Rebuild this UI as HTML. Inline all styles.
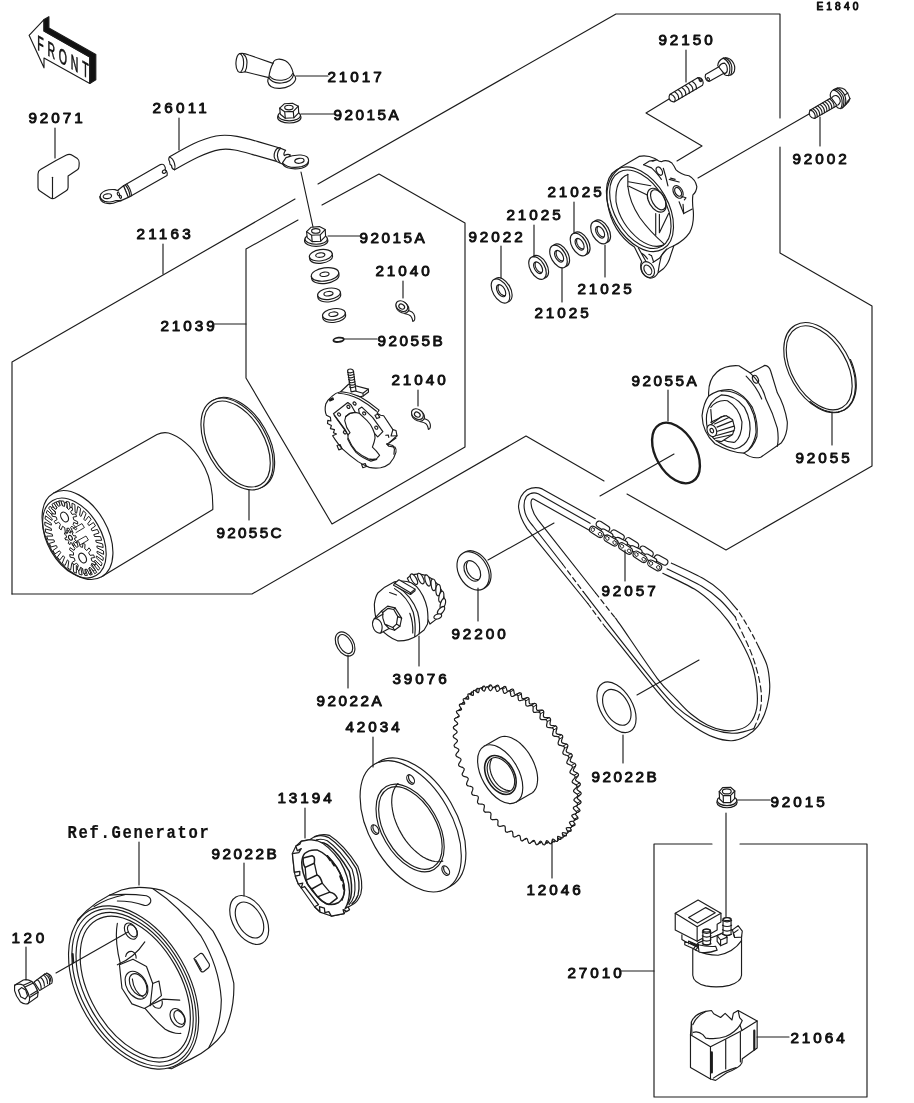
<!DOCTYPE html>
<html><head><meta charset="utf-8"><title>Starter Motor</title>
<style>
html,body{margin:0;padding:0;background:#fff;overflow:hidden}
svg{display:block;filter:grayscale(1)}
.ln{fill:none;stroke:#1c1c1c;stroke-width:1.15;stroke-linecap:round;stroke-linejoin:round}
.ln *{vector-effect:non-scaling-stroke}
.ln .w{fill:#fff}
.ln .k{fill:#111}
.ln .thin{stroke-width:0.8}
.ln .thick{stroke-width:2.4}
.t{font-family:"Liberation Sans",sans-serif;font-weight:normal;fill:#111;stroke:#111;stroke-width:0.95;stroke-linejoin:round}
.t .m{font-family:"Liberation Mono",monospace;font-weight:bold;stroke-width:0.2}
</style></head><body>
<svg width="914" height="1103" viewBox="0 0 914 1103">
<rect width="914" height="1103" fill="#fff"/>
<g class="ln">
<g id="frame">
<polyline points="12,594 12,362 295,199"/>
<polyline points="318,184 616,14 780,14 780,118"/>
<polyline points="780,147 780,253 872,306 872,466 726,550 627,494"/>
<polyline points="604,481 526,436 252,594 12,594"/>
<polyline points="298,220 246,249 246,378 332,524 465,447 465,223 379,174 322,205"/>
<polyline points="712,844 654,844 654,1097 867,1097 867,844 740,844"/>
</g>
<g id="partA">
<polygon points="29.1,35.3 44,19.6 44,31 89.8,57 89.8,83.4 44,58 44,67.8" class="w"/>
<polygon points="44,19.6 48.9,16.7 48.9,28 95.8,54.5 95.8,79.8 89.8,83.4 89.8,57 44,31" class="k"/>
<text transform="translate(37.2,49.4) skewY(29.5) scale(0.5,1)" font-family="Liberation Sans, sans-serif" font-size="21" textLength="103" lengthAdjust="spacing" fill="#111" stroke="#111" stroke-width="0.6" opacity="0.995">FRONT</text>
<path d="M38,174 Q38,171 40.5,169.6 L56,160.4 L66,155.2 Q69.5,153.6 72.6,155.4 L77.4,158.6 Q79.4,160 79.2,163 L79,166.6 Q79,168.6 77.4,169.8 L68.1,176 L68.1,187.6 Q68.1,189.6 66.2,190.8 L55,198 Q52.5,199.4 50,197.8 L39.6,190.8 Q38,189.6 38,187.6 Z" class="w"/>
<line x1="52.5" y1="177.3" x2="52.5" y2="197.7"/>
<path d="M123.5,185.7 L160.4,164.6 Q163.4,163.4 164.6,166 Q166,168 165,170 Q168,171.6 167,175.6 L128.3,197.4 Z" class="w"/>
<ellipse cx="164.3" cy="171.6" rx="2.1" ry="1.6" transform="rotate(-30 164.3 171.6)"/>
<path d="M115.6,192 L123.5,185.7 L128.3,197.4 L121,200.6 Z" class="w"/>
<path d="M125.4,185 Q129.4,189.6 130,196.6"/>
<path d="M126.8,184.2 Q130.8,188.8 131.6,195.8"/>
<path d="M118.6,191 L115,189.6 Q104,189 100.6,194.4 Q98.8,199 104.6,201.4 Q111,203 116,200.6 L121,200.6" class="w"/>
<path d="M99.8,196.6 Q100,201.6 105,203 Q111.6,204.6 116.6,202 L121,200.6"/>
<ellipse cx="107.4" cy="196.2" rx="4.2" ry="2.4" transform="rotate(-8 107.4 196.2)"/>
<ellipse cx="118.4" cy="194" rx="1" ry="1.8" transform="rotate(-20 118.4 194)"/>
<ellipse cx="120.4" cy="196.8" rx="1" ry="1.6" transform="rotate(-20 120.4 196.8)"/>
<path d="M169.4,157 C184,148.6 200,139 216,136 C230,133.6 244,137.6 258,141.6 L280.6,148.2 L276.6,161.4 L252,154.4 C240,151 230,148 220,149.6 C206,152 190,161 174.6,169.8 Q171.4,168.6 171.6,165.6 Q169.4,164.4 169.6,161.4 Q168,159.4 169.4,157 Z" class="w"/>
<path d="M169.4,157 Q173,158.4 174.4,163 Q175.6,166.6 174.6,169.8"/>
<path d="M276.6,161.4 Q272.6,157 275,151.6 Q277,147 280.6,148.2 L285.6,150.4 Q283,153.6 284.4,155.6 Q287.6,153.6 290.4,155 Q287.6,157.6 289.4,158.6 L284.6,165 Z" class="w"/>
<path d="M280.6,148.2 Q277.4,151 277.4,155.6 Q277.6,159.6 280,162.6"/>
<path d="M286,157.6 Q293,154.6 301,155 Q308.6,155.8 308.6,160.2 Q308.4,164.8 301.6,166.6 Q293.6,168.4 287.6,166.2 Q282.6,164.2 282.6,162.6 Z" class="w"/>
<path d="M282.6,162.8 Q282.6,166 287.6,167.8 Q294,169.8 301.6,168.2 Q308.6,166.4 308.6,161"/>
<ellipse cx="299.4" cy="160.8" rx="4.7" ry="2.5" transform="rotate(-8 299.4 160.8)"/>
<path d="M239.6,53.6 Q243.6,52.6 249,55 L273,63.4 C274,58 281,58.6 285.4,60.8 C290.6,63.4 292.6,70 293.6,74.6 Q296,76.4 295.6,79.4 C294,84.6 287,88 280,88.4 C273.6,88.6 268.6,86.4 267.8,81.6 Q267.6,79 268.8,77.6 L245,71.8 Q240,73.4 238,71.4 C234.6,67 235.6,56 239.6,53.6 Z" class="w"/>
<path d="M239.6,53.6 Q243.4,55.4 243.6,62 Q243.8,68.6 241,71.6"/>
<path d="M243.6,54.4 Q246.8,56.4 247,62.4 Q247,68 245,71.8"/>
<path d="M273,63.4 C270.6,67.6 269.4,73 268.8,77.6"/>
<path d="M268.8,77.6 C270.6,81.6 276,83.4 281.6,83 C287.6,82.4 292.6,79.4 293.6,74.6"/>
<path d="M269.6,76 C272,79.4 277,80.6 282,80.2 C287,79.6 291,77.4 292.6,73.6"/>
<g transform="translate(289.3 116.2) scale(1)">
<ellipse cx="0" cy="1.2" rx="11.7" ry="5.6" class="w"/>
<ellipse cx="0" cy="-0.6" rx="11.2" ry="5.2" class="w"/>
<path class="w" d="M-9,-2 L-9.6,-8 L-5,-12.4 L3.2,-13 L9,-10 L9.4,-3.4 L4.5,1.6 L-4,2 Z"/>
<path d="M-9.6,-8 L-4.6,-4.4 L4,-4.8 L9,-10 M-4.6,-4.4 L-4,2 M4,-4.8 L4.5,1.6"/>
<ellipse cx="-0.4" cy="-8.7" rx="4.2" ry="2.3"/>
</g>
<g transform="translate(316.2 239.6) scale(1)">
<ellipse cx="0" cy="1.2" rx="11.7" ry="5.6" class="w"/>
<ellipse cx="0" cy="-0.6" rx="11.2" ry="5.2" class="w"/>
<path class="w" d="M-9,-2 L-9.6,-8 L-5,-12.4 L3.2,-13 L9,-10 L9.4,-3.4 L4.5,1.6 L-4,2 Z"/>
<path d="M-9.6,-8 L-4.6,-4.4 L4,-4.8 L9,-10 M-4.6,-4.4 L-4,2 M4,-4.8 L4.5,1.6"/>
<ellipse cx="-0.4" cy="-8.7" rx="4.2" ry="2.3"/>
</g>
<g transform="translate(320.8 255.2) rotate(-8)">
<path class="w" d="M-11.5,0 L-11.5,2.4 A11.5,5.6 0 0 0 11.5,2.4 L11.5,0"/>
<ellipse cx="0" cy="0" rx="11.5" ry="5.6" class="w"/>
<ellipse cx="-0.5" cy="-0.2" rx="4.6" ry="2.2"/>
</g>
<g transform="translate(325 274.4) rotate(-8)">
<path class="w" d="M-13.8,0 L-13.8,2.4 A13.8,6.6 0 0 0 13.8,2.4 L13.8,0"/>
<ellipse cx="0" cy="0" rx="13.8" ry="6.6" class="w"/>
<ellipse cx="-0.5" cy="-0.2" rx="4.6" ry="2.2"/>
</g>
<g transform="translate(329 293.8) rotate(-8)">
<path class="w" d="M-11.5,0 L-11.5,2.4 A11.5,5.6 0 0 0 11.5,2.4 L11.5,0"/>
<ellipse cx="0" cy="0" rx="11.5" ry="5.6" class="w"/>
<ellipse cx="-0.5" cy="-0.2" rx="4.6" ry="2.2"/>
</g>
<g transform="translate(333.9 314.3) rotate(-8)">
<path class="w" d="M-11.5,0 L-11.5,2.4 A11.5,5.6 0 0 0 11.5,2.4 L11.5,0"/>
<ellipse cx="0" cy="0" rx="11.5" ry="5.6" class="w"/>
<ellipse cx="-0.5" cy="-0.2" rx="4.6" ry="2.2"/>
</g>
<ellipse cx="338.6" cy="339.8" rx="5.2" ry="2.1" transform="rotate(-6 338.6 339.8)" stroke-width="1.8"/>
<g transform="translate(402 306.6)">
<path class="w" d="M4.6,3.6 C8,4 12,6 12.6,9.5 C13.2,12.5 12.6,14.4 10.8,14.8 C10.4,12 9.4,9.6 7.6,8.6 C6,7.6 4,7.4 2.4,6.8 Z"/>
<ellipse cx="0.8" cy="0.4" rx="7" ry="5.2" transform="rotate(35)" class="w"/>
<ellipse cx="-0.4" cy="-0.3" rx="6.4" ry="4.8" transform="rotate(35)" class="w"/>
<ellipse cx="-0.2" cy="0.2" rx="3.1" ry="2.3" transform="rotate(35)"/>
</g>
<g transform="translate(417.6 414.6)">
<path class="w" d="M4.6,3.6 C8,4 12,6 12.6,9.5 C13.2,12.5 12.6,14.4 10.8,14.8 C10.4,12 9.4,9.6 7.6,8.6 C6,7.6 4,7.4 2.4,6.8 Z"/>
<ellipse cx="0.8" cy="0.4" rx="7" ry="5.2" transform="rotate(35)" class="w"/>
<ellipse cx="-0.4" cy="-0.3" rx="6.4" ry="4.8" transform="rotate(35)" class="w"/>
<ellipse cx="-0.2" cy="0.2" rx="3.1" ry="2.3" transform="rotate(35)"/>
</g>
</g>
<g id="partB">
<ellipse cx="502.8" cy="289.7" rx="13.2" ry="7.6" transform="rotate(60 502.8 289.7)" class="w"/>
<ellipse cx="500.5" cy="291" rx="13.2" ry="7.6" transform="rotate(60 500.5 291)" class="w"/>
<ellipse cx="501.1" cy="290.7" rx="6.6" ry="3.8" transform="rotate(60 501.1 290.7)"/>
<polyline points="504.6,295.6 504,295.6 503.3,295.4 502.6,295.1 501.8,294.6 501.1,294.1 500.4,293.4 499.8,292.6 499.3,291.7 498.8,290.8 498.4,289.9 498.2,288.9 498,288 498,287.2 498.1,286.4 498.3,285.7 498.6,285.1"/>
<ellipse cx="539.8" cy="266.7" rx="12.4" ry="7.2" transform="rotate(60 539.8 266.7)" class="w"/>
<ellipse cx="537.5" cy="268" rx="12.4" ry="7.2" transform="rotate(60 537.5 268)" class="w"/>
<ellipse cx="538.1" cy="267.7" rx="6.4" ry="3.7" transform="rotate(60 538.1 267.7)"/>
<polyline points="541.5,272.4 540.9,272.4 540.2,272.3 539.5,271.9 538.8,271.5 538.1,270.9 537.5,270.3 536.9,269.5 536.4,268.7 535.9,267.8 535.5,266.9 535.3,266 535.1,265.1 535.1,264.3 535.2,263.5 535.4,262.8 535.7,262.3"/>
<ellipse cx="560.8" cy="255.2" rx="12.4" ry="7.2" transform="rotate(60 560.8 255.2)" class="w"/>
<ellipse cx="558.5" cy="256.5" rx="12.4" ry="7.2" transform="rotate(60 558.5 256.5)" class="w"/>
<ellipse cx="559.1" cy="256.2" rx="6.4" ry="3.7" transform="rotate(60 559.1 256.2)"/>
<polyline points="562.5,260.9 561.9,260.9 561.2,260.8 560.5,260.4 559.8,260 559.1,259.4 558.5,258.8 557.9,258 557.4,257.2 556.9,256.3 556.5,255.4 556.3,254.5 556.1,253.6 556.1,252.8 556.2,252 556.4,251.3 556.7,250.8"/>
<ellipse cx="581.3" cy="243.2" rx="12.4" ry="7.2" transform="rotate(60 581.3 243.2)" class="w"/>
<ellipse cx="579" cy="244.5" rx="12.4" ry="7.2" transform="rotate(60 579 244.5)" class="w"/>
<ellipse cx="579.6" cy="244.2" rx="6.4" ry="3.7" transform="rotate(60 579.6 244.2)"/>
<polyline points="583,248.9 582.4,248.9 581.7,248.8 581,248.4 580.3,248 579.6,247.4 579,246.8 578.4,246 577.9,245.2 577.4,244.3 577,243.4 576.8,242.5 576.6,241.6 576.6,240.8 576.7,240 576.9,239.3 577.2,238.8"/>
<ellipse cx="601.8" cy="231.2" rx="12.4" ry="7.2" transform="rotate(60 601.8 231.2)" class="w"/>
<ellipse cx="599.5" cy="232.5" rx="12.4" ry="7.2" transform="rotate(60 599.5 232.5)" class="w"/>
<ellipse cx="600.1" cy="232.2" rx="6.4" ry="3.7" transform="rotate(60 600.1 232.2)"/>
<polyline points="603.5,236.9 602.9,236.9 602.2,236.8 601.5,236.4 600.8,236 600.1,235.4 599.5,234.8 598.9,234 598.4,233.2 597.9,232.3 597.5,231.4 597.3,230.5 597.1,229.6 597.1,228.8 597.2,228 597.4,227.3 597.7,226.8"/>
<g transform="translate(655 50) scale(0.13129)">
<path d="M115,337 L325,212 Q350,205 362,228 Q372,250 362,268 L148,394 Q120,398 108,372 Q104,350 115,337 Z" class="w"/>
<path d="M115,337 Q140,340 152,365 Q158,382 148,394"/>
<path d="M150,318 Q184,340 180,375"/>
<path d="M177,302 Q211,324 207,359"/>
<path d="M204,286 Q238,308 234,343"/>
<path d="M231,271 Q265,293 261,328"/>
<path d="M258,255 Q292,277 288,312"/>
<path d="M285,240 Q319,262 315,297"/>
<path d="M325,212 Q343,222 349,240"/>
<ellipse cx="346" cy="230" rx="9" ry="12" transform="rotate(-30 346 230)"/>
<path d="M385,187 L490,125 L525,178 L412,240 Q396,238 388,222 Q378,205 385,187 Z" class="w"/>
<ellipse cx="405" cy="222" rx="9" ry="12" transform="rotate(-30 405 222)"/>
<path d="M478,120 Q480,80 520,62 Q560,50 588,85 Q615,120 605,160 Q600,178 585,186 Q560,200 535,190 Q520,180 525,178 Z" class="w"/>
<path d="M520,62 Q548,75 565,110 Q578,150 560,196"/>
<path d="M535,60 Q565,72 580,108 Q592,145 578,190"/>
<path d="M490,125 Q500,100 530,100 Q555,120 550,160 Q545,180 525,178"/>
</g>
<g transform="translate(790 75) scale(0.08753)">
<path d="M228,402 L480,255 L545,345 L285,495 Q250,500 228,465 Q212,430 228,402 Z" class="w"/>
<path d="M228,402 Q262,405 280,440 Q295,470 285,495"/>
<path d="M262,385 Q314,417 312,477"/>
<path d="M289,369 Q341,401 339,461"/>
<path d="M317,353 Q369,385 367,445"/>
<path d="M344,337 Q396,369 394,429"/>
<path d="M372,321 Q424,353 422,413"/>
<path d="M399,305 Q451,337 449,397"/>
<path d="M427,289 Q479,321 477,381"/>
<path d="M454,273 Q506,305 504,365"/>
<path d="M462,250 Q450,200 495,170 L540,150 Q590,140 625,165 Q670,210 685,270 Q680,300 640,335 L600,375 Q570,390 545,375 Q520,350 530,340 Z" class="w"/>
<path d="M495,170 Q545,180 585,250 Q610,320 580,385"/>
<path d="M515,160 Q565,170 605,240 Q630,310 600,375"/>
<path d="M540,150 Q590,165 625,230 Q650,300 625,350"/>
<path d="M625,230 L660,205 M640,335 Q650,300 685,270"/>
<path d="M480,255 Q500,230 530,235 Q570,255 575,300 Q570,330 545,345"/>
</g>
<g transform="translate(595 140) scale(0.13141)">
<path d="M195,208 L335,125 Q395,112 455,140 L470,150 Q490,165 505,165 Q545,145 585,175 Q605,200 615,225 Q650,262 715,272 Q765,300 775,355 Q772,395 745,418 Q738,470 748,540 Q755,640 720,705 Q680,765 600,805 L575,880 Q560,940 520,980 L480,1010 Q460,1050 420,1052 Q375,1040 355,1000 Q340,960 355,925 L300,815 Q130,700 95,480 Q70,300 195,208 Z" class="w"/>
<ellipse cx="342" cy="527" rx="350" ry="215" transform="rotate(60 342 527)"/>
<ellipse cx="345" cy="527" rx="325" ry="194" transform="rotate(60 345 527)"/>
<path d="M250,262 Q150,300 160,470 Q190,640 340,760 Q440,830 520,800"/>
<path d="M250,262 L250,352"/>
<path d="M250,352 Q262,470 340,590 Q420,700 525,790"/>
<ellipse cx="470" cy="458" rx="99" ry="60" transform="rotate(60 470 458)" class="w"/>
<ellipse cx="481" cy="455" rx="84" ry="47" transform="rotate(60 481 455)"/>
<path d="M255,318 L425,348 M258,352 L398,418 L400,445"/>
<path d="M462,560 L462,725 M490,565 L490,705 L560,560"/>
<path d="M370,188 L415,160 L470,150 M440,162 L470,150"/>
<path d="M370,188 L430,212 Q480,260 505,300"/>
<ellipse cx="490" cy="237" rx="34" ry="20" transform="rotate(60 490 237)"/>
<path d="M520,215 Q540,280 555,350"/>
<path d="M565,300 L640,320 M575,290 L610,300"/>
<ellipse cx="632" cy="395" rx="52" ry="34" transform="rotate(60 632 395)"/>
<ellipse cx="632" cy="395" rx="36" ry="22" transform="rotate(60 632 395)"/>
<path d="M640,470 L675,560 L740,525 M660,430 L692,440 L680,455"/>
<path d="M675,560 L670,490"/>
<path d="M330,822 L388,925 M355,862 Q385,880 400,905 M440,932 L490,900 L545,830"/>
<path d="M480,1005 Q490,940 505,880 Q530,830 600,805"/>
<path d="M430,880 L445,925 M410,870 L430,880"/>
<ellipse cx="402" cy="986" rx="64" ry="46" transform="rotate(60 402 986)" class="w"/>
<ellipse cx="402" cy="988" rx="40" ry="26" transform="rotate(60 402 988)"/>
</g>
</g>
<g id="partC">
<path d="M53.4,493.3 L157,434.6 C162,432.2 168,432.4 172,434.2 C184,439 197,452 205,468 C210,478 213.2,490 212.8,509.4 L101.6,576.7" class="w"/>
<ellipse cx="77.5" cy="535" rx="48.2" ry="30" transform="rotate(60 77.5 535)" class="w"/>
<ellipse cx="74.4" cy="538" rx="43.4" ry="26.8" transform="rotate(60 74.4 538)"/>
<polygon points="94.5,573.4 89.8,565.8 88.6,566.3 92.3,574.4 90,575.1 86.2,567 84.8,567.2 87.4,575.4 84.8,575.4 82.1,567.2 80.7,567 82.1,575 79.2,574.3 77.8,566.2 76.3,565.6 76.4,573.2 73.5,571.8 73.3,564.2 71.8,563.2 70.6,570 67.8,568 68.8,561.1 67.4,559.9 65,565.6 62.3,563 64.6,557.2 63.2,555.7 59.7,560.2 57.3,557.1 60.7,552.6 59.5,550.8 55,553.9 52.9,550.5 57.3,547.4 56.3,545.5 51,547 49.3,543.4 54.6,541.8 53.9,539.9 47.9,539.8 46.7,536.1 52.7,536.1 52.2,534.2 45.8,532.5 45.2,528.9 51.5,530.5 51.3,528.6 44.9,525.4 44.8,522 51.3,525.2 51.4,523.5 45,518.8 45.5,515.8 51.9,520.4 52.3,518.9 46.3,513 47.3,510.4 53.4,516.2 54,515 48.6,508.1 50.1,506.1 55.6,512.9 56.6,512 51.9,504.4 53.9,503 58.6,510.6 59.8,510.1 56.1,502 58.4,501.3 62.2,509.4 63.6,509.2 61,501 63.6,501 66.3,509.2 67.7,509.4 66.3,501.4 69.2,502.1 70.6,510.2 72.1,510.8 72,503.2 74.9,504.6 75.1,512.2 76.6,513.2 77.8,506.4 80.6,508.4 79.6,515.3 81,516.5 83.4,510.8 86.1,513.4 83.8,519.2 85.2,520.7 88.7,516.2 91.1,519.3 87.7,523.8 88.9,525.6 93.4,522.5 95.5,525.9 91.1,529 92.1,530.9 97.4,529.4 99.1,533 93.8,534.6 94.5,536.5 100.5,536.6 101.7,540.3 95.7,540.3 96.2,542.2 102.6,543.9 103.2,547.5 96.9,545.9 97.1,547.8 103.5,551 103.6,554.4 97.1,551.2 97,552.9 103.4,557.6 102.9,560.6 96.5,556 96.1,557.5 102.1,563.4 101.1,566 95,560.2 94.4,561.4 99.8,568.3 98.3,570.3 92.8,563.5 91.8,564.4 96.5,572" stroke-width="1"/>
<polygon points="70.8,527.7 73,532.4 71.3,533.1 69,528.3 66.9,528.3 67.4,533 65.3,532.3 64.7,527.6 62.5,526.3 61.1,529.9 59.1,528.1 60.4,524.4 58.6,522.2 55.7,523.8 54.2,521.3 57.1,519.6 56.1,516.9 52.2,516.2 51.7,513.6 55.5,514.2 55.5,511.6 51.6,508.8 52.1,506.6 56,509.4 57,507.6 54,503.2 55.4,502 58.4,506.3 60.2,505.7 58.8,500.8 60.8,500.8 62.3,505.7 64.5,506.4 65,502.1 67.1,503.4 66.7,507.7 68.8,509.6 71,506.8 72.8,509.1 70.6,511.8 72.1,514.4 75.6,513.9 76.6,516.5 73.1,517.1 73.7,519.8 77.6,521.7 77.7,524.1 73.7,522.4 73.2,524.6 76.7,528.4 75.7,530.1 72.2,526.4" class="w" stroke-width="1"/>
<ellipse cx="64.6" cy="517" rx="5.3" ry="3.4" transform="rotate(60 64.6 517)"/>
<polygon points="88.8,568.7 91,573.4 89.3,574.1 87,569.3 84.9,569.3 85.4,574 83.3,573.3 82.7,568.6 80.5,567.3 79.1,570.9 77.1,569.1 78.4,565.4 76.6,563.2 73.7,564.8 72.2,562.3 75.1,560.6 74.1,557.9 70.2,557.2 69.7,554.6 73.5,555.2 73.5,552.6 69.6,549.8 70.1,547.6 74,550.4 75,548.6 72,544.2 73.4,543 76.4,547.3 78.2,546.7 76.8,541.8 78.8,541.8 80.3,546.7 82.5,547.4 83,543.1 85.1,544.4 84.7,548.7 86.8,550.6 89,547.8 90.8,550.1 88.6,552.8 90.1,555.4 93.6,554.9 94.6,557.5 91.1,558.1 91.7,560.8 95.6,562.7 95.7,565.1 91.7,563.4 91.2,565.6 94.7,569.4 93.7,571.1 90.2,567.4" class="w" stroke-width="1"/>
<ellipse cx="82.6" cy="558" rx="5.3" ry="3.4" transform="rotate(60 82.6 558)"/>
<polygon points="73.5,542.7 74.5,545.2 73.1,545.6 72,543.1 70.4,542.6 69.9,544.6 68.2,543.4 68.8,541.4 67.4,539.6 65.7,540 64.8,538 66.6,537.6 66.3,535.6 64.4,534.1 64.8,532.5 66.7,533.9 67.7,532.9 66.7,530.4 68.1,530 69.2,532.5 70.8,533 71.3,531 73,532.2 72.4,534.2 73.8,536 75.5,535.6 76.4,537.6 74.6,538 74.9,540 76.8,541.5 76.4,543.1 74.5,541.7" class="w" stroke-width="1"/>
<ellipse cx="70.4" cy="537.8" rx="2.6" ry="1.7" transform="rotate(60 70.4 537.8)"/>
<path d="M73,528.5 L82,523.6 L84.4,527.6 L76,532.6 M77,541 L86,536 L88.4,540 L80,545" stroke-width="0.9"/>
<ellipse cx="238.6" cy="443.2" rx="50" ry="30" transform="rotate(60 238.6 443.2)"/>
<ellipse cx="237" cy="444" rx="50" ry="30" transform="rotate(60 237 444)" class="w"/>
<ellipse cx="237" cy="444" rx="47" ry="27.2" transform="rotate(60 237 444)"/>
<g transform="translate(315 362) scale(0.10250)">
<path d="M250,290 L330,215 L520,265 L522,292 L470,332 L440,340 Z" class="w"/>
<path d="M520,265 L468,305 L470,332 M468,305 L400,285"/>
<path d="M318,85 Q320,68 345,68 Q372,68 375,88 L400,282 L352,292 Z" class="w"/>
<path d="M319,100 Q345,114 377,96"/>
<path d="M322,124 Q348,138 380,120"/>
<path d="M325,148 Q351,162 383,144"/>
<path d="M328,172 Q354,186 386,168"/>
<path d="M331,196 Q357,210 389,192"/>
<path d="M334,220 Q360,234 392,216"/>
<path d="M337,244 Q363,258 395,240"/>
<path d="M165,335 Q200,300 250,290 Q330,292 440,340 Q530,392 625,470 L605,500 L640,520 L670,524 L760,660 L790,668 L800,720 L722,790 L700,800 L720,822 L780,830 Q796,850 790,880 Q775,940 730,990 Q690,1022 640,1032 Q580,1040 530,1028 Q470,1005 420,972 Q340,915 270,850 Q225,800 195,755 L172,720 L210,702 L180,690 L190,660 L150,650 L160,620 L122,600 L125,570 L155,576 L150,540 L112,520 Q90,470 105,410 Q125,365 165,335 Z" class="w"/>
<path d="M230,305 Q330,312 430,360 Q520,410 600,480"/>
<path d="M180,505 L320,395 L352,420 L392,490 L340,500 L300,532 L290,572 L310,640 L342,690 L322,712 L290,655 Z"/>
<path d="M188,520 L292,665"/>
<path d="M425,460 L457,440 L562,540 L662,680 L612,730 L582,700 Q565,650 540,610 Q510,570 480,545 L432,500 Z"/>
<path d="M300,532 L340,502 L392,492 L432,500 M582,700 Q592,740 577,780 L560,830 Q600,865 630,910 L600,945 Q560,955 520,945 Q460,920 400,870 Q350,810 322,740 L322,712"/>
<path d="M318,750 Q345,815 400,882 Q465,940 545,967 L602,950"/>
<ellipse cx="235" cy="512" rx="17" ry="13" transform="rotate(45 235 512)"/>
<ellipse cx="326" cy="437" rx="17" ry="13" transform="rotate(45 326 437)"/>
<ellipse cx="386" cy="405" rx="17" ry="13" transform="rotate(45 386 405)"/>
<ellipse cx="292" cy="686" rx="17" ry="13" transform="rotate(45 292 686)"/>
<ellipse cx="480" cy="502" rx="17" ry="13" transform="rotate(45 480 502)"/>
<ellipse cx="598" cy="640" rx="17" ry="13" transform="rotate(45 598 640)"/>
<path d="M585,520 L615,510 L632,540 L602,552 Z M215,815 L245,805 L262,845 L232,857 Z M455,1000 L490,990 L502,1020 L467,1032 Z"/>
<path d="M140,365 L175,350 L180,365 L146,381 Z" class="k"/>
<path d="M760,660 L742,722 L800,720 M690,715 L715,712 L720,735 M722,790 L790,742 M700,800 L760,815 L775,850 L770,900"/>
</g>
</g>
<g id="partD">
<ellipse cx="474.9" cy="569.9" rx="20.5" ry="14.4" transform="rotate(60 474.9 569.9)" class="w"/>
<ellipse cx="473.1" cy="570.9" rx="20.5" ry="14.4" transform="rotate(60 473.1 570.9)" class="w"/>
<ellipse cx="472.3" cy="570.9" rx="11" ry="7.3" transform="rotate(60 472.3 570.9)"/>
<polyline points="478,579.5 476.7,579.5 475.4,579.3 474.1,578.8 472.8,578.1 471.6,577.1 470.4,576 469.3,574.6 468.3,573.2 467.6,571.7 467,570.1 466.6,568.5 466.4,566.9 466.4,565.4 466.6,564 467.1,562.8 467.7,561.7"/>
<ellipse cx="345.1" cy="644" rx="13.1" ry="8.5" transform="rotate(60 345.1 644)" class="w"/>
<ellipse cx="345.3" cy="644" rx="10.4" ry="6.1" transform="rotate(60 345.3 644)"/>
<ellipse cx="676" cy="453" rx="33" ry="20" transform="rotate(60 676 453)" class="thick"/>
<ellipse cx="819.6" cy="367.6" rx="48.9" ry="30.3" transform="rotate(60 819.6 367.6)"/>
<ellipse cx="819.2" cy="367.8" rx="45.8" ry="27.4" transform="rotate(60 819.2 367.8)"/>
<polyline points="850.5,359.6 852,363.3 853.3,366.9 854.3,370.6 855.2,374.2 855.8,377.8 856.1,381.3 856.3,384.8 856.2,388.1 855.8,391.2 855.2,394.3 854.4,397.1 853.4,399.7 852.2,402.1 850.7,404.3 849,406.3 847.2,408 845.2,409.4 843,410.5 840.6,411.3 838.1,411.9 835.5,412.2 832.8,412.1 830.1,411.8 827.2,411.1 824.3,410.2 821.4,409 818.5,407.5 815.6,405.8 812.7,403.7 809.9,401.5"/>
<g transform="translate(365 565) scale(0.09846)">
<path d="M430,135 L470,100 L545,90 L620,105 L690,148 L745,203 L787,272 L808,350 L803,432 L772,512 L712,560 L660,600 L560,400 Z" class="w"/>
<ellipse cx="497.5" cy="144" rx="59.9" ry="24" transform="rotate(58 497.5 144)" class="w"/>
<ellipse cx="566.5" cy="137" rx="57.9" ry="24" transform="rotate(64.5 566.5 137)" class="w"/>
<ellipse cx="636" cy="157" rx="59.5" ry="24" transform="rotate(71.9 636 157)" class="w"/>
<ellipse cx="696" cy="201" rx="59.4" ry="24" transform="rotate(83.3 696 201)" class="w"/>
<ellipse cx="743.5" cy="255.5" rx="58.5" ry="24" transform="rotate(91.7 743.5 255.5)" class="w"/>
<ellipse cx="775.5" cy="323.5" rx="57.4" ry="24" transform="rotate(101.1 775.5 323.5)" class="w"/>
<ellipse cx="790.5" cy="396" rx="56.2" ry="24" transform="rotate(107.5 790.5 396)" class="w"/>
<ellipse cx="773" cy="462" rx="48.4" ry="24" transform="rotate(132 773 462)" class="w"/>
<ellipse cx="739" cy="523" rx="40.9" ry="24" transform="rotate(160.5 739 523)" class="w"/>
<path d="M130,285 L200,225 L300,170 Q400,150 470,180 L520,215 Q600,300 632,440 Q645,540 635,600 L600,660 L530,715 Q440,775 330,770 Q230,730 150,640 Q95,540 95,400 Q105,320 130,285 Z" class="w"/>
<path d="M300,240 Q430,320 490,480 Q520,600 505,725"/>
<path d="M330,222 Q470,310 535,480 Q565,600 550,700"/>
<path d="M455,490 Q490,580 485,690"/>
<path d="M250,280 L320,305"/>
<path d="M300,185 L345,150 L508,245 L508,262 L462,300 L290,205 Z" class="w"/>
<path d="M300,185 L462,283 L508,245 M462,283 L462,300"/>
<path d="M165,470 L230,418 L305,435 L372,540 L355,622 L300,662 L245,645 L160,690 Q120,700 90,650 Q60,590 95,545 Z" class="w"/>
<path d="M180,482 L235,440 L292,452 L332,522 L320,600 L282,635 M292,452 L305,435 M332,522 L372,540 M320,600 L355,622 M282,635 L300,662"/>
<path d="M180,482 L165,470 M180,482 Q172,540 200,600 L245,645 M200,600 L282,635"/>
<path d="M95,545 Q140,540 165,590 Q185,640 160,690"/>
<path d="M110,540 L185,498"/>
</g>
<g transform="translate(690 345) scale(0.20790)">
<path d="M90,245 Q85,170 130,130 Q170,95 235,100 L290,135 L360,98 Q380,100 388,125 L420,230 Q455,290 468,370 Q470,430 440,470 L340,540 Q300,550 260,520 Q200,520 120,475 Q60,420 58,340 Q65,280 90,245 Z" class="w"/>
<path d="M290,135 Q345,185 365,260 Q400,330 420,400 Q428,450 420,488"/>
<path d="M270,150 Q320,200 345,260"/>
<ellipse cx="315" cy="165" rx="13" ry="20" transform="rotate(-25 315 165)"/>
<path d="M90,245 Q140,210 200,215 Q260,235 300,300 Q330,370 322,440 Q305,495 260,520"/>
<path d="M150,222 Q215,215 270,265 Q320,330 318,420 Q310,470 285,500"/>
<path d="M80,335 Q90,270 150,240 Q215,240 262,300 Q300,370 285,440 Q265,490 215,500 Q130,480 90,420 Q75,380 80,335 Z"/>
<path d="M100,300 Q130,262 180,268 Q235,300 250,370 Q250,440 215,468 Q150,470 110,410"/>
<path d="M85,395 L150,345 L175,340 L205,360 L215,400 L205,430 L150,465 L125,460" class="w"/>
<path d="M100,372 L165,340"/>
<path d="M118,380 L190,348"/>
<path d="M130,395 L205,365"/>
<path d="M132,415 L212,390"/>
<path d="M128,435 L212,412"/>
<path d="M118,450 L200,432"/>
<ellipse cx="105" cy="412" rx="22" ry="30" transform="rotate(-25 105 412)" class="w"/>
<ellipse cx="105" cy="412" rx="8" ry="11" transform="rotate(-25 105 412)"/>
<path d="M100,310 L105,375"/>
</g>
</g>
<g id="partE">
<path d="M595.3,518.7 L542.2,488.9 Q534.9,485.9 527.1,489.8 Q519.2,495.1 518.5,506.3 Q519.2,516.8 527.1,528.6 L587.8,603.5"/>
<path d="M587.8,603.5 L604.8,626.5" stroke-dasharray="5 3.5"/>
<path d="M604.8,626.5 C607.3,629.6 611.3,634.1 620,644.9 C628.7,655.7 647.9,680.2 657.2,691.4 C666.5,702.5 669.6,705.9 675.8,711.8 C682,717.7 688.2,722.5 694.4,726.7 C700.6,730.9 706.8,734.6 713,736.9 C719.2,739.2 726,740.9 731.6,740.7 C737.2,740.6 742.2,738.3 746.5,736 C750.8,733.7 754.6,730.4 757.6,726.7 C760.6,723 762.8,718.6 764.6,714 C766.4,709.4 767.8,704 768.6,699 C769.5,694 770,689.5 769.7,683.9 C769.4,678.3 768.9,671.5 767,665.3 C765.1,659.1 760,649.8 758.6,646.7 "/>
<path d="M758.6,646.7 Q749,627 737.2,609.5" stroke-dasharray="5 3.5"/>
<path d="M737.2,609.5 C734.4,606.4 726,596 720.4,590.9 C714.8,585.8 711.9,583.4 703.7,578.8 C695.5,574.1 676.6,565.6 671.2,563 "/>
<path d="M590.1,523.3 L538.2,493.8 Q531.7,491.2 526.4,496.4 Q522.5,502.3 525.1,512.8 Q527.1,519.4 533,526 L562.5,564"/>
<path d="M562.5,564 L583.2,591.7" stroke-dasharray="5 3.5"/>
<path d="M583.2,591.7 C589.3,599.6 607.7,623.6 620,639.3 C632.3,655 647.9,674.6 657.2,685.8 C666.5,697 669.6,700.6 675.8,706.3 C682,712 688.2,716.3 694.4,720.2 C700.6,724.1 706.8,727.3 713,729.5 C719.2,731.7 726.4,732.9 731.6,733.2 C736.8,733.6 740.3,732.4 744,731.6 C747.7,730.8 752.2,729.1 753.9,728.6 "/>
<path d="M753.9,728.6 C754.8,726.1 758.2,719.3 759.5,713.7 C760.8,708.1 761.7,701.9 761.4,695.1 C761.1,688.3 759.5,680.2 757.6,672.8 C755.7,665.3 753.3,658.1 750.2,650.4 C747.1,642.6 741.5,631.9 739,626.3 C736.5,620.7 735.9,618.5 735.3,617 " stroke-dasharray="6 3.5"/>
<path d="M735.3,617 C732.8,614.2 726,605.3 720.4,600.2 C714.8,595.1 710.8,591.6 701.8,586.3 C692.8,581 672.4,571.5 666.5,568.6 "/>
<path d="M588.8,529.9 L533.6,499 Q531,498.4 531,503 Q531.7,511.5 537.6,519.4 L595.6,593"/>
<path d="M595.6,593 L615.3,618" stroke-dasharray="5 3.5"/>
<path d="M615.3,618 C616.1,619.1 613,614.4 620,624.4 C627,634.4 647.9,665.9 657.2,678.3 C666.5,690.7 670.2,692.9 675.8,698.8 C681.4,704.7 685.4,709.4 690.7,713.7 C696,718.1 701.8,722.1 707.4,724.9 C713,727.7 718.9,729.6 724.2,730.4 C729.5,731.2 734.7,730.7 739,729.5 C743.3,728.3 747.2,726.6 750.2,723 C753.2,719.4 755.6,714 756.7,708.1 C757.8,702.2 757.5,694.7 756.7,687.6 C755.9,680.5 754.7,673 752.1,665.3 C749.5,657.5 744.9,648.5 740.9,641.1 C736.9,633.7 732.5,626.9 727.9,620.7 C723.2,614.5 718.6,609.2 713,603.9 C707.4,598.6 702.8,594.2 694.4,589.1 C686,584 668.1,575.9 662.8,573.3 "/>
<g transform="translate(585 515) scale(0.10395)">
<path d="M40,95 L120,45 L830,455 L760,550 Z" fill="#fff" stroke="none"/>
<rect x="107" y="58" width="143.2" height="60" rx="30" ry="30" transform="rotate(32.7 137 88)" class="w"/>
<rect x="247" y="143" width="140.6" height="60" rx="30" ry="30" transform="rotate(29.7 277 173)" class="w"/>
<rect x="387" y="218" width="143.2" height="60" rx="30" ry="30" transform="rotate(32.7 417 248)" class="w"/>
<rect x="527" y="298" width="143.2" height="60" rx="30" ry="30" transform="rotate(32.7 557 328)" class="w"/>
<rect x="667" y="383" width="140.6" height="60" rx="30" ry="30" transform="rotate(29.7 697 413)" class="w"/>
<rect x="151" y="135" width="128.6" height="48" rx="24" ry="24" transform="rotate(29.7 175 159)" class="w"/>
<rect x="291" y="215" width="126.3" height="48" rx="24" ry="24" transform="rotate(26.6 315 239)" class="w"/>
<rect x="431" y="295" width="126.3" height="48" rx="24" ry="24" transform="rotate(26.6 455 319)" class="w"/>
<rect x="571" y="375" width="128.6" height="48" rx="24" ry="24" transform="rotate(29.7 595 399)" class="w"/>
<rect x="43" y="108" width="147.2" height="64" rx="32" ry="32" transform="rotate(32.7 75 140)" class="w"/>
<rect x="183" y="193" width="144.6" height="64" rx="32" ry="32" transform="rotate(29.7 215 225)" class="w"/>
<rect x="323" y="268" width="147.2" height="64" rx="32" ry="32" transform="rotate(32.7 355 300)" class="w"/>
<rect x="463" y="348" width="147.2" height="64" rx="32" ry="32" transform="rotate(32.7 495 380)" class="w"/>
<rect x="603" y="433" width="144.6" height="64" rx="32" ry="32" transform="rotate(29.7 635 465)" class="w"/>
<ellipse cx="75" cy="140" rx="16" ry="19" transform="rotate(-30 75 140)" stroke-width="0.95"/>
<ellipse cx="145" cy="185" rx="16" ry="19" transform="rotate(-30 145 185)" stroke-width="0.95"/>
<ellipse cx="215" cy="225" rx="16" ry="19" transform="rotate(-30 215 225)" stroke-width="0.95"/>
<ellipse cx="285" cy="265" rx="16" ry="19" transform="rotate(-30 285 265)" stroke-width="0.95"/>
<ellipse cx="355" cy="300" rx="16" ry="19" transform="rotate(-30 355 300)" stroke-width="0.95"/>
<ellipse cx="425" cy="345" rx="16" ry="19" transform="rotate(-30 425 345)" stroke-width="0.95"/>
<ellipse cx="495" cy="380" rx="16" ry="19" transform="rotate(-30 495 380)" stroke-width="0.95"/>
<ellipse cx="565" cy="425" rx="16" ry="19" transform="rotate(-30 565 425)" stroke-width="0.95"/>
<ellipse cx="635" cy="465" rx="16" ry="19" transform="rotate(-30 635 465)" stroke-width="0.95"/>
<ellipse cx="705" cy="505" rx="16" ry="19" transform="rotate(-30 705 505)" stroke-width="0.95"/>
</g>
<ellipse cx="616.5" cy="707.3" rx="27.7" ry="16" transform="rotate(60 616.5 707.3)" class="w"/>
<ellipse cx="616.8" cy="707.3" rx="19.5" ry="12" transform="rotate(60 616.8 707.3)"/>
<ellipse cx="249.2" cy="920" rx="26.6" ry="16.4" transform="rotate(60 249.2 920)" class="w"/>
<ellipse cx="249.5" cy="920" rx="19.5" ry="12" transform="rotate(60 249.5 920)"/>
<path d="M561,836.9 C561.1,837.4 561.1,838.1 561,838.5 C561,839 560.8,839.3 560.6,839.4 C560.3,839.6 560,839.5 559.6,839.3 C559.2,839.1 558.7,838.7 558.3,838.3 C557.8,838 557.4,837.5 557,837.3 C556.6,837.1 556.3,837 556.1,837.1 C555.8,837.2 555.7,837.5 555.6,837.9 C555.5,838.3 555.4,838.9 555.3,839.5 C555.2,840 555.1,840.7 554.9,841 C554.8,841.4 554.6,841.8 554.3,841.8 C554,841.9 553.7,841.7 553.3,841.5 C553,841.2 552.6,840.7 552.2,840.3 C551.8,839.9 551.5,839.3 551.1,839.1 C550.8,838.8 550.5,838.6 550.3,838.6 C550,838.7 549.8,838.9 549.6,839.3 C549.4,839.7 549.2,840.3 549,840.8 C548.8,841.3 548.5,842 548.3,842.3 C548,842.7 547.7,842.9 547.5,843 C547.2,843 546.8,842.7 546.5,842.4 C546.2,842.1 545.9,841.5 545.6,841 C545.3,840.6 545.1,840 544.8,839.6 C544.5,839.3 544.2,839 544,839 C543.7,839 543.4,839.3 543.1,839.6 C542.8,839.9 542.5,840.5 542.2,841 C541.9,841.4 541.5,842 541.2,842.3 C540.8,842.6 540.5,842.8 540.2,842.8 C539.9,842.8 539.6,842.5 539.4,842.1 C539.1,841.7 538.9,841.1 538.6,840.6 C538.4,840.1 538.2,839.4 538,839 C537.7,838.7 537.5,838.4 537.2,838.3 C536.9,838.3 536.6,838.4 536.2,838.7 C535.9,839 535.4,839.5 535,839.9 C534.6,840.3 534.2,840.8 533.8,841 C533.4,841.3 533,841.5 532.7,841.4 C532.3,841.3 532.1,841 531.9,840.5 C531.6,840.1 531.5,839.5 531.3,838.9 C531.2,838.4 531,837.7 530.8,837.3 C530.6,836.9 530.4,836.5 530.1,836.4 C529.8,836.3 529.4,836.4 529,836.6 C528.6,836.8 528.1,837.3 527.6,837.6 C527.1,837.9 526.6,838.4 526.1,838.6 C525.7,838.8 525.3,838.9 524.9,838.7 C524.6,838.6 524.4,838.2 524.2,837.8 C524,837.3 524,836.6 523.8,836.1 C523.7,835.5 523.7,834.8 523.5,834.3 C523.3,833.9 523.1,833.5 522.8,833.4 C522.5,833.2 522.1,833.3 521.6,833.4 C521.2,833.6 520.6,833.9 520,834.2 C519.5,834.4 518.9,834.8 518.4,834.9 C517.9,835 517.5,835.1 517.2,834.9 C516.8,834.7 516.6,834.3 516.5,833.8 C516.3,833.4 516.3,832.7 516.3,832.1 C516.2,831.5 516.2,830.8 516,830.3 C515.9,829.8 515.7,829.4 515.4,829.2 C515.1,829 514.7,829 514.2,829.1 C513.7,829.2 513,829.5 512.5,829.7 C511.9,829.8 511.2,830.1 510.7,830.2 C510.2,830.2 509.7,830.2 509.4,830 C509.1,829.8 508.9,829.3 508.8,828.8 C508.7,828.3 508.7,827.6 508.7,827 C508.7,826.4 508.7,825.7 508.6,825.2 C508.5,824.7 508.4,824.2 508.1,824 C507.8,823.8 507.3,823.7 506.8,823.7 C506.3,823.7 505.6,824 505,824.1 C504.4,824.2 503.7,824.4 503.2,824.4 C502.6,824.4 502.2,824.3 501.9,824.1 C501.5,823.8 501.4,823.3 501.3,822.8 C501.2,822.3 501.3,821.6 501.3,820.9 C501.3,820.3 501.5,819.6 501.4,819.1 C501.3,818.6 501.2,818.1 500.9,817.8 C500.6,817.5 500.1,817.4 499.6,817.4 C499.1,817.4 498.4,817.5 497.7,817.6 C497.1,817.6 496.4,817.7 495.9,817.7 C495.3,817.6 494.8,817.5 494.5,817.2 C494.3,816.9 494.1,816.4 494.1,815.9 C494,815.3 494.2,814.6 494.2,814 C494.3,813.3 494.5,812.6 494.4,812.1 C494.4,811.6 494.3,811.1 494,810.8 C493.7,810.5 493.3,810.3 492.7,810.2 C492.2,810.1 491.5,810.2 490.8,810.2 C490.2,810.2 489.4,810.2 488.9,810.1 C488.4,810 487.9,809.8 487.6,809.5 C487.3,809.2 487.3,808.7 487.2,808.1 C487.2,807.6 487.4,806.9 487.5,806.2 C487.6,805.6 487.8,804.9 487.8,804.3 C487.8,803.8 487.8,803.3 487.5,803 C487.2,802.6 486.8,802.4 486.3,802.3 C485.7,802.1 485,802.2 484.3,802.1 C483.7,802 483,802 482.4,801.9 C481.9,801.7 481.4,801.5 481.2,801.1 C480.9,800.8 480.9,800.2 480.9,799.7 C480.9,799.1 481.2,798.4 481.3,797.8 C481.5,797.2 481.7,796.5 481.7,795.9 C481.8,795.4 481.8,794.9 481.5,794.5 C481.3,794.2 480.8,793.9 480.3,793.7 C479.8,793.5 479.1,793.5 478.4,793.4 C477.8,793.3 477,793.2 476.5,793 C476,792.8 475.5,792.5 475.3,792.2 C475.1,791.8 475.1,791.3 475.1,790.7 C475.2,790.2 475.5,789.5 475.7,788.9 C475.9,788.2 476.2,787.6 476.3,787 C476.3,786.5 476.3,786 476.1,785.6 C475.9,785.2 475.5,784.9 475,784.7 C474.5,784.5 473.7,784.4 473.1,784.2 C472.5,784 471.8,783.9 471.3,783.7 C470.8,783.5 470.3,783.2 470.1,782.8 C469.9,782.4 469.9,781.9 470.1,781.3 C470.2,780.8 470.5,780.1 470.7,779.5 C471,778.9 471.3,778.2 471.5,777.7 C471.6,777.2 471.6,776.7 471.4,776.3 C471.3,775.9 470.9,775.6 470.4,775.3 C469.9,775.1 469.2,774.9 468.6,774.7 C467.9,774.5 467.2,774.4 466.7,774.1 C466.3,773.8 465.9,773.5 465.7,773.1 C465.5,772.7 465.6,772.2 465.7,771.6 C465.9,771.1 466.3,770.5 466.6,769.9 C466.8,769.3 467.3,768.7 467.4,768.2 C467.6,767.7 467.7,767.2 467.5,766.8 C467.4,766.4 467,766.1 466.5,765.8 C466.1,765.5 465.4,765.3 464.8,765.1 C464.2,764.8 463.5,764.6 463,764.3 C462.6,764 462.2,763.7 462.1,763.3 C461.9,762.9 462,762.4 462.2,761.9 C462.4,761.3 462.9,760.8 463.2,760.2 C463.5,759.7 464,759.1 464.2,758.6 C464.4,758.1 464.5,757.7 464.4,757.3 C464.3,756.9 464,756.5 463.5,756.2 C463.1,755.9 462.4,755.7 461.9,755.4 C461.3,755.1 460.6,754.8 460.2,754.5 C459.8,754.2 459.4,753.8 459.3,753.4 C459.2,753 459.4,752.6 459.6,752.1 C459.8,751.6 460.3,751.1 460.7,750.6 C461.1,750.1 461.6,749.6 461.9,749.1 C462.1,748.7 462.3,748.2 462.2,747.8 C462.1,747.5 461.8,747.1 461.4,746.8 C461,746.4 460.4,746.2 459.8,745.8 C459.3,745.5 458.6,745.2 458.2,744.9 C457.9,744.5 457.5,744.2 457.5,743.8 C457.4,743.4 457.6,743 457.9,742.5 C458.2,742.1 458.7,741.6 459.2,741.2 C459.6,740.7 460.1,740.3 460.4,739.9 C460.7,739.5 460.9,739.1 460.9,738.7 C460.9,738.3 460.6,738 460.2,737.6 C459.9,737.3 459.2,736.9 458.7,736.6 C458.2,736.2 457.6,735.9 457.3,735.5 C456.9,735.2 456.6,734.8 456.6,734.4 C456.6,734 456.8,733.6 457.2,733.3 C457.5,732.9 458.1,732.5 458.5,732.1 C459,731.7 459.6,731.4 459.9,731 C460.3,730.6 460.5,730.3 460.5,729.9 C460.5,729.6 460.3,729.2 460,728.9 C459.6,728.5 459,728.1 458.6,727.8 C458.1,727.4 457.5,727 457.2,726.6 C456.9,726.2 456.7,725.9 456.7,725.5 C456.7,725.1 457,724.8 457.4,724.5 C457.7,724.1 458.4,723.8 458.9,723.6 C459.4,723.3 460,723 460.4,722.7 C460.8,722.4 461,722.1 461.1,721.8 C461.1,721.4 460.9,721.1 460.6,720.7 C460.4,720.3 459.8,719.9 459.4,719.5 C459,719.1 458.4,718.7 458.2,718.3 C457.9,717.9 457.7,717.5 457.8,717.2 C457.9,716.8 458.2,716.5 458.6,716.3 C459,716 459.6,715.8 460.2,715.6 C460.7,715.4 461.4,715.3 461.8,715 C462.2,714.8 462.5,714.6 462.6,714.3 C462.6,714 462.5,713.6 462.2,713.2 C462,712.8 461.5,712.4 461.1,711.9 C460.8,711.5 460.3,711 460.1,710.6 C459.9,710.2 459.7,709.8 459.8,709.5 C459.9,709.2 460.3,709 460.7,708.8 C461.1,708.6 461.8,708.6 462.4,708.5 C462.9,708.4 463.6,708.3 464,708.2 C464.4,708 464.8,707.9 464.9,707.6 C465,707.4 464.9,707 464.7,706.6 C464.5,706.2 464.1,705.7 463.8,705.2 C463.5,704.7 463.1,704.2 462.9,703.8 C462.8,703.4 462.7,703 462.9,702.7 C463,702.4 463.4,702.3 463.8,702.2 C464.2,702.1 464.9,702.2 465.5,702.2 C466,702.2 466.7,702.3 467.1,702.2 C467.5,702.2 467.9,702.1 468,701.9 C468.2,701.6 468.1,701.3 468,700.9 C467.9,700.5 467.5,699.9 467.3,699.4 C467.1,698.9 466.8,698.3 466.7,697.9 C466.6,697.4 466.6,697 466.8,696.8 C467,696.6 467.4,696.5 467.8,696.5 C468.2,696.6 468.9,696.7 469.4,696.9 C469.9,697 470.6,697.2 471,697.2 C471.4,697.3 471.7,697.3 471.9,697.1 C472.1,696.9 472.1,696.6 472.1,696.2 C472,695.7 471.8,695.1 471.7,694.6 C471.5,694.1 471.4,693.4 471.3,693 C471.3,692.6 471.4,692.2 471.6,692 C471.8,691.8 472.2,691.9 472.6,692 C473,692.1 473.6,692.4 474.1,692.6 C474.6,692.8 475.2,693.2 475.6,693.3 C476,693.4 476.3,693.5 476.5,693.4 C476.7,693.3 476.8,692.9 476.8,692.5 C476.9,692.1 476.8,691.4 476.8,690.9 C476.7,690.4 476.7,689.7 476.8,689.3 C476.8,688.8 477,688.5 477.2,688.4 C477.5,688.2 477.8,688.3 478.2,688.5 C478.6,688.7 479.1,689.1 479.5,689.5 C480,689.8 480.4,690.3 480.8,690.5 C481.2,690.7 481.5,690.8 481.7,690.7 C482,690.6 482.1,690.3 482.2,689.9 C482.3,689.5 482.4,688.9 482.5,688.3 C482.6,687.8 482.7,687.1 482.9,686.8 C483,686.4 483.2,686 483.5,686 C483.8,685.9 484.1,686.1 484.5,686.3 C484.8,686.6 485.2,687.1 485.6,687.5 C486,687.9 486.3,688.5 486.7,688.7 C487,689 487.3,689.2 487.5,689.2 C487.8,689.1 488,688.9 488.2,688.5 C488.4,688.1 488.6,687.5 488.8,687 C489,686.5 489.3,685.8 489.5,685.5 C489.8,685.1 490.1,684.9 490.3,684.8 C490.6,684.8 491,685.1 491.3,685.4 C491.6,685.7 491.9,686.3 492.2,686.8 C492.5,687.2 492.7,687.8 493,688.2 C493.3,688.5 493.6,688.8 493.8,688.8 C494.1,688.8 494.4,688.5 494.7,688.2 C495,687.9 495.3,687.3 495.6,686.8 C495.9,686.4 496.3,685.8 496.6,685.5 C497,685.2 497.3,685 497.6,685 C497.9,685 498.2,685.3 498.4,685.7 C498.7,686.1 498.9,686.7 499.2,687.2 C499.4,687.7 499.6,688.4 499.8,688.8 C500.1,689.1 500.3,689.4 500.6,689.5 C500.9,689.5 501.2,689.4 501.6,689.1 C501.9,688.8 502.4,688.3 502.8,687.9 C503.2,687.5 503.6,687 504,686.8 C504.4,686.5 504.8,686.3 505.1,686.4 C505.5,686.5 505.7,686.8 505.9,687.3 C506.2,687.7 506.3,688.3 506.5,688.9 C506.6,689.4 506.8,690.1 507,690.5 C507.2,690.9 507.4,691.3 507.7,691.4 C508,691.5 508.4,691.4 508.8,691.2 C509.2,691 509.7,690.5 510.2,690.2 C510.7,689.9 511.2,689.4 511.7,689.2 C512.1,689 512.5,688.9 512.9,689.1 C513.2,689.2 513.4,689.6 513.6,690 C513.8,690.5 513.8,691.2 514,691.7 C514.1,692.3 514.1,693 514.3,693.5 C514.5,693.9 514.7,694.3 515,694.4 C515.3,694.6 515.7,694.5 516.2,694.4 C516.6,694.2 517.2,693.9 517.8,693.6 C518.3,693.4 518.9,693 519.4,692.9 C519.9,692.8 520.3,692.7 520.6,692.9 C521,693.1 521.2,693.5 521.3,694 C521.5,694.4 521.5,695.1 521.5,695.7 C521.6,696.3 521.6,697 521.8,697.5 C521.9,698 522.1,698.4 522.4,698.6 C522.7,698.8 523.1,698.8 523.6,698.7 C524.1,698.6 524.8,698.3 525.3,698.1 C525.9,698 526.6,697.7 527.1,697.6 C527.6,697.6 528.1,697.6 528.4,697.8 C528.7,698 528.9,698.5 529,699 C529.1,699.5 529.1,700.2 529.1,700.8 C529.1,701.4 529.1,702.1 529.2,702.6 C529.3,703.1 529.4,703.6 529.7,703.8 C530,704 530.5,704.1 531,704.1 C531.5,704.1 532.2,703.8 532.8,703.7 C533.4,703.6 534.1,703.4 534.6,703.4 C535.2,703.4 535.6,703.5 535.9,703.7 C536.3,704 536.4,704.5 536.5,705 C536.6,705.5 536.5,706.2 536.5,706.9 C536.5,707.5 536.3,708.2 536.4,708.7 C536.5,709.2 536.6,709.7 536.9,710 C537.2,710.3 537.7,710.4 538.2,710.4 C538.7,710.4 539.4,710.3 540.1,710.2 C540.7,710.2 541.4,710.1 541.9,710.1 C542.5,710.2 543,710.3 543.3,710.6 C543.5,710.9 543.7,711.4 543.7,711.9 C543.8,712.5 543.6,713.2 543.6,713.8 C543.5,714.5 543.3,715.2 543.4,715.7 C543.4,716.2 543.5,716.7 543.8,717 C544.1,717.3 544.5,717.5 545.1,717.6 C545.6,717.7 546.3,717.6 547,717.6 C547.6,717.6 548.4,717.6 548.9,717.7 C549.4,717.8 549.9,718 550.2,718.3 C550.5,718.6 550.5,719.1 550.6,719.7 C550.6,720.2 550.4,720.9 550.3,721.6 C550.2,722.2 550,722.9 550,723.5 C550,724 550,724.5 550.3,724.8 C550.6,725.2 551,725.4 551.5,725.5 C552.1,725.7 552.8,725.6 553.5,725.7 C554.1,725.8 554.8,725.8 555.4,725.9 C555.9,726.1 556.4,726.3 556.6,726.7 C556.9,727 556.9,727.6 556.9,728.1 C556.9,728.7 556.6,729.4 556.5,730 C556.3,730.6 556.1,731.3 556.1,731.9 C556,732.4 556,732.9 556.3,733.3 C556.5,733.6 557,733.9 557.5,734.1 C558,734.3 558.7,734.3 559.4,734.4 C560,734.5 560.8,734.6 561.3,734.8 C561.8,735 562.3,735.3 562.5,735.6 C562.7,736 562.7,736.5 562.7,737.1 C562.6,737.6 562.3,738.3 562.1,738.9 C561.9,739.6 561.6,740.2 561.5,740.8 C561.5,741.3 561.5,741.8 561.7,742.2 C561.9,742.6 562.3,742.9 562.8,743.1 C563.3,743.3 564.1,743.4 564.7,743.6 C565.3,743.8 566,743.9 566.5,744.1 C567,744.3 567.5,744.6 567.7,745 C567.9,745.4 567.9,745.9 567.7,746.5 C567.6,747 567.3,747.7 567.1,748.3 C566.8,748.9 566.5,749.6 566.3,750.1 C566.2,750.6 566.2,751.1 566.4,751.5 C566.5,751.9 566.9,752.2 567.4,752.5 C567.9,752.7 568.6,752.9 569.2,753.1 C569.9,753.3 570.6,753.4 571.1,753.7 C571.5,754 571.9,754.3 572.1,754.7 C572.3,755.1 572.2,755.6 572.1,756.2 C571.9,756.7 571.5,757.3 571.2,757.9 C571,758.5 570.5,759.1 570.4,759.6 C570.2,760.1 570.1,760.6 570.3,761 C570.4,761.4 570.8,761.7 571.3,762 C571.7,762.3 572.4,762.5 573,762.7 C573.6,763 574.3,763.2 574.8,763.5 C575.2,763.8 575.6,764.1 575.7,764.5 C575.9,764.9 575.8,765.4 575.6,765.9 C575.4,766.5 574.9,767 574.6,767.6 C574.3,768.1 573.8,768.7 573.6,769.2 C573.4,769.7 573.3,770.1 573.4,770.5 C573.5,770.9 573.8,771.3 574.3,771.6 C574.7,771.9 575.4,772.1 575.9,772.4 C576.5,772.7 577.2,773 577.6,773.3 C578,773.6 578.4,774 578.5,774.4 C578.6,774.8 578.4,775.2 578.2,775.7 C578,776.2 577.5,776.7 577.1,777.2 C576.7,777.7 576.2,778.2 575.9,778.7 C575.7,779.1 575.5,779.6 575.6,780 C575.7,780.3 576,780.7 576.4,781 C576.8,781.4 577.4,781.6 578,782 C578.5,782.3 579.2,782.6 579.6,782.9 C579.9,783.3 580.3,783.6 580.3,784 C580.4,784.4 580.2,784.8 579.9,785.3 C579.6,785.7 579.1,786.2 578.6,786.6 C578.2,787.1 577.7,787.5 577.4,787.9 C577.1,788.3 576.9,788.7 576.9,789.1 C576.9,789.5 577.2,789.8 577.6,790.2 C577.9,790.5 578.6,790.9 579.1,791.2 C579.6,791.6 580.2,791.9 580.5,792.3 C580.9,792.6 581.2,793 581.2,793.4 C581.2,793.8 581,794.2 580.6,794.5 C580.3,794.9 579.7,795.3 579.3,795.7 C578.8,796.1 578.2,796.4 577.9,796.8 C577.5,797.2 577.3,797.5 577.3,797.9 C577.3,798.2 577.5,798.6 577.8,798.9 C578.2,799.3 578.8,799.7 579.2,800 C579.7,800.4 580.3,800.8 580.6,801.2 C580.9,801.6 581.1,801.9 581.1,802.3 C581.1,802.7 580.8,803 580.4,803.3 C580.1,803.7 579.4,804 578.9,804.2 C578.4,804.5 577.8,804.8 577.4,805.1 C577,805.4 576.8,805.7 576.7,806 C576.7,806.4 576.9,806.7 577.2,807.1 C577.4,807.5 578,807.9 578.4,808.3 C578.8,808.7 579.4,809.1 579.6,809.5 C579.9,809.9 580.1,810.3 580,810.6 C579.9,811 579.6,811.3 579.2,811.5 C578.8,811.8 578.2,812 577.6,812.2 C577.1,812.4 576.4,812.5 576,812.8 C575.6,813 575.3,813.2 575.2,813.5 C575.2,813.8 575.3,814.2 575.6,814.6 C575.8,815 576.3,815.4 576.7,815.9 C577,816.3 577.5,816.8 577.7,817.2 C577.9,817.6 578.1,818 578,818.3 C577.9,818.6 577.5,818.8 577.1,819 C576.7,819.2 576,819.2 575.4,819.3 C574.9,819.4 574.2,819.5 573.8,819.6 C573.4,819.8 573,819.9 572.9,820.2 C572.8,820.4 572.9,820.8 573.1,821.2 C573.3,821.6 573.7,822.1 574,822.6 C574.3,823.1 574.7,823.6 574.9,824 C575,824.4 575.1,824.8 574.9,825.1 C574.8,825.4 574.4,825.5 574,825.6 C573.6,825.7 572.9,825.6 572.3,825.6 C571.8,825.6 571.1,825.5 570.7,825.6 C570.3,825.6 569.9,825.7 569.8,825.9 C569.6,826.2 569.7,826.5 569.8,826.9 C569.9,827.3 570.3,827.9 570.5,828.4 C570.7,828.9 571,829.5 571.1,829.9 C571.2,830.4 571.2,830.8 571,831 C570.8,831.2 570.4,831.3 570,831.3 C569.6,831.2 568.9,831.1 568.4,830.9 C567.9,830.8 567.2,830.6 566.8,830.6 C566.4,830.5 566.1,830.5 565.9,830.7 C565.7,830.9 565.7,831.2 565.7,831.6 C565.8,832.1 566,832.7 566.1,833.2 C566.3,833.7 566.4,834.4 566.5,834.8 C566.5,835.2 566.4,835.6 566.2,835.8 C566,836 565.6,835.9 565.2,835.8 C564.8,835.7 564.2,835.4 563.7,835.2 C563.2,835 562.6,834.6 562.2,834.5 C561.8,834.4 561.5,834.3 561.3,834.4 C561.1,834.5 561,834.9 561,835.3 C560.9,835.7 561,836.4 561,836.9 Z" class="w" stroke-width="1.2"/>
<path d="M557.6,840.5 l3.4,-2 M556.2,841.3 l3.4,-2 M551.5,843 l3.4,-2 M549.9,843.5 l3.4,-2 M544.9,844.3 l3.4,-2 M543.1,844.4 l3.4,-2 M537.8,844.3 l3.4,-2 M536,844.1 l3.4,-2 M530.4,843 l3.4,-2 M528.5,842.5 l3.4,-2 M522.7,840.6 l3.4,-2 M520.8,839.8 l3.4,-2 M515,836.9 l3.4,-2 M513.1,835.8 l3.4,-2 M507.3,832.2 l3.4,-2 M505.4,830.8 l3.4,-2 M499.8,826.4 l3.4,-2 M497.9,824.8 l3.4,-2 M492.5,819.7 l3.4,-2 M490.7,817.9 l3.4,-2 M485.5,812.1 l3.4,-2 M483.8,810.1 l3.4,-2 M479,803.9 l3.4,-2 M477.5,801.7 l3.4,-2 M473.1,795 l3.4,-2 M471.7,792.7 l3.4,-2 M467.9,785.7 l3.4,-2 M466.7,783.3 l3.4,-2 M463.3,776.1 l3.4,-2 M462.3,773.6 l3.4,-2 M459.6,766.3 l3.4,-2 M458.8,763.9 l3.4,-2 M456.8,756.5 l3.4,-2 M456.2,754.1 l3.4,-2 M454.8,746.9 l3.4,-2 M454.5,744.5 l3.4,-2 M453.9,737.5 l3.4,-2 M453.8,735.3 l3.4,-2 M453.8,728.6 l3.4,-2 M454,726.5 l3.4,-2 M454.8,720.3 l3.4,-2 M455.2,718.3 l3.4,-2 M456.7,712.6 l3.4,-2 M457.3,710.8 l3.4,-2 M459.5,705.8 l3.4,-2 M460.4,704.2 l3.4,-2 M463.3,699.9 l3.4,-2 M464.4,698.5 l3.4,-2 M467.9,695 l3.4,-2 M469.2,694 l3.4,-2 M473.4,691.3 l3.4,-2 M474.8,690.5 l3.4,-2 M479.5,688.8 l3.4,-2 M481.1,688.3 l3.4,-2 M486.1,687.5 l3.4,-2 M487.9,687.4 l3.4,-2 M493.2,687.5 l3.4,-2 M495,687.7 l3.4,-2 M500.6,688.8 l3.4,-2 M502.5,689.3 l3.4,-2 M508.3,691.2 l3.4,-2 M510.2,692 l3.4,-2 M516,694.9 l3.4,-2 M517.9,696 l3.4,-2 M523.7,699.6 l3.4,-2 M525.6,701 l3.4,-2 M531.2,705.4 l3.4,-2 M533.1,707 l3.4,-2 M538.5,712.1 l3.4,-2 M540.3,713.9 l3.4,-2 M545.5,719.7 l3.4,-2 M547.2,721.7 l3.4,-2 M552,727.9 l3.4,-2 M553.5,730.1 l3.4,-2 M557.9,736.8 l3.4,-2 M559.3,739.1 l3.4,-2 M563.1,746.1 l3.4,-2 M564.3,748.5 l3.4,-2 M567.7,755.7 l3.4,-2 M568.7,758.2 l3.4,-2 M571.4,765.5 l3.4,-2 M572.2,767.9 l3.4,-2 M574.2,775.3 l3.4,-2 M574.8,777.7 l3.4,-2 M576.2,784.9 l3.4,-2 M576.5,787.3 l3.4,-2 M577.1,794.3 l3.4,-2 M577.2,796.5 l3.4,-2 M577.2,803.2 l3.4,-2 M577,805.3 l3.4,-2 M576.2,811.5 l3.4,-2 M575.8,813.5 l3.4,-2 M574.3,819.2 l3.4,-2 M573.7,821 l3.4,-2 M571.5,826 l3.4,-2 M570.6,827.6 l3.4,-2 M567.7,831.9 l3.4,-2 M566.6,833.3 l3.4,-2 M563.1,836.8 l3.4,-2 M561.8,837.8 l3.4,-2 " stroke-width="1"/>
<path d="M557.6,838.9 C557.7,839.4 557.7,840.1 557.6,840.5 C557.6,841 557.4,841.3 557.2,841.4 C556.9,841.6 556.6,841.5 556.2,841.3 C555.8,841.1 555.3,840.7 554.9,840.3 C554.4,840 554,839.5 553.6,839.3 C553.2,839.1 552.9,839 552.7,839.1 C552.4,839.2 552.3,839.5 552.2,839.9 C552.1,840.3 552,840.9 551.9,841.5 C551.8,842 551.7,842.7 551.5,843 C551.4,843.4 551.2,843.8 550.9,843.8 C550.6,843.9 550.3,843.7 549.9,843.5 C549.6,843.2 549.2,842.7 548.8,842.3 C548.4,841.9 548.1,841.3 547.7,841.1 C547.4,840.8 547.1,840.6 546.9,840.6 C546.6,840.7 546.4,840.9 546.2,841.3 C546,841.7 545.8,842.3 545.6,842.8 C545.4,843.3 545.1,844 544.9,844.3 C544.6,844.7 544.3,844.9 544.1,845 C543.8,845 543.4,844.7 543.1,844.4 C542.8,844.1 542.5,843.5 542.2,843 C541.9,842.6 541.7,842 541.4,841.6 C541.1,841.3 540.8,841 540.6,841 C540.3,841 540,841.3 539.7,841.6 C539.4,841.9 539.1,842.5 538.8,843 C538.5,843.4 538.1,844 537.8,844.3 C537.4,844.6 537.1,844.8 536.8,844.8 C536.5,844.8 536.2,844.5 536,844.1 C535.7,843.7 535.5,843.1 535.2,842.6 C535,842.1 534.8,841.4 534.6,841 C534.3,840.7 534.1,840.4 533.8,840.3 C533.5,840.3 533.2,840.4 532.8,840.7 C532.5,841 532,841.5 531.6,841.9 C531.2,842.3 530.8,842.8 530.4,843 C530,843.3 529.6,843.5 529.3,843.4 C528.9,843.3 528.7,843 528.5,842.5 C528.2,842.1 528.1,841.5 527.9,840.9 C527.8,840.4 527.6,839.7 527.4,839.3 C527.2,838.9 527,838.5 526.7,838.4 C526.4,838.3 526,838.4 525.6,838.6 C525.2,838.8 524.7,839.3 524.2,839.6 C523.7,839.9 523.2,840.4 522.7,840.6 C522.3,840.8 521.9,840.9 521.5,840.7 C521.2,840.6 521,840.2 520.8,839.8 C520.6,839.3 520.6,838.6 520.4,838.1 C520.3,837.5 520.3,836.8 520.1,836.3 C519.9,835.9 519.7,835.5 519.4,835.4 C519.1,835.2 518.7,835.3 518.2,835.4 C517.8,835.6 517.2,835.9 516.6,836.2 C516.1,836.4 515.5,836.8 515,836.9 C514.5,837 514.1,837.1 513.8,836.9 C513.4,836.7 513.2,836.3 513.1,835.8 C512.9,835.4 512.9,834.7 512.9,834.1 C512.8,833.5 512.8,832.8 512.6,832.3 C512.5,831.8 512.3,831.4 512,831.2 C511.7,831 511.3,831 510.8,831.1 C510.3,831.2 509.6,831.5 509.1,831.7 C508.5,831.8 507.8,832.1 507.3,832.2 C506.8,832.2 506.3,832.2 506,832 C505.7,831.8 505.5,831.3 505.4,830.8 C505.3,830.3 505.3,829.6 505.3,829 C505.3,828.4 505.3,827.7 505.2,827.2 C505.1,826.7 505,826.2 504.7,826 C504.4,825.8 503.9,825.7 503.4,825.7 C502.9,825.7 502.2,826 501.6,826.1 C501,826.2 500.3,826.4 499.8,826.4 C499.2,826.4 498.8,826.3 498.5,826.1 C498.1,825.8 498,825.3 497.9,824.8 C497.8,824.3 497.9,823.6 497.9,822.9 C497.9,822.3 498.1,821.6 498,821.1 C497.9,820.6 497.8,820.1 497.5,819.8 C497.2,819.5 496.7,819.4 496.2,819.4 C495.7,819.4 495,819.5 494.3,819.6 C493.7,819.6 493,819.7 492.5,819.7 C491.9,819.6 491.4,819.5 491.1,819.2 C490.9,818.9 490.7,818.4 490.7,817.9 C490.6,817.3 490.8,816.6 490.8,816 C490.9,815.3 491.1,814.6 491,814.1 C491,813.6 490.9,813.1 490.6,812.8 C490.3,812.5 489.9,812.3 489.3,812.2 C488.8,812.1 488.1,812.2 487.4,812.2 C486.8,812.2 486,812.2 485.5,812.1 C485,812 484.5,811.8 484.2,811.5 C483.9,811.2 483.9,810.7 483.8,810.1 C483.8,809.6 484,808.9 484.1,808.2 C484.2,807.6 484.4,806.9 484.4,806.3 C484.4,805.8 484.4,805.3 484.1,805 C483.8,804.6 483.4,804.4 482.9,804.3 C482.3,804.1 481.6,804.2 480.9,804.1 C480.3,804 479.6,804 479,803.9 C478.5,803.7 478,803.5 477.8,803.1 C477.5,802.8 477.5,802.2 477.5,801.7 C477.5,801.1 477.8,800.4 477.9,799.8 C478.1,799.2 478.3,798.5 478.3,797.9 C478.4,797.4 478.4,796.9 478.1,796.5 C477.9,796.2 477.4,795.9 476.9,795.7 C476.4,795.5 475.7,795.5 475,795.4 C474.4,795.3 473.6,795.2 473.1,795 C472.6,794.8 472.1,794.5 471.9,794.2 C471.7,793.8 471.7,793.3 471.7,792.7 C471.8,792.2 472.1,791.5 472.3,790.9 C472.5,790.2 472.8,789.6 472.9,789 C472.9,788.5 472.9,788 472.7,787.6 C472.5,787.2 472.1,786.9 471.6,786.7 C471.1,786.5 470.3,786.4 469.7,786.2 C469.1,786 468.4,785.9 467.9,785.7 C467.4,785.5 466.9,785.2 466.7,784.8 C466.5,784.4 466.5,783.9 466.7,783.3 C466.8,782.8 467.1,782.1 467.3,781.5 C467.6,780.9 467.9,780.2 468.1,779.7 C468.2,779.2 468.2,778.7 468,778.3 C467.9,777.9 467.5,777.6 467,777.3 C466.5,777.1 465.8,776.9 465.2,776.7 C464.5,776.5 463.8,776.4 463.3,776.1 C462.9,775.8 462.5,775.5 462.3,775.1 C462.1,774.7 462.2,774.2 462.3,773.6 C462.5,773.1 462.9,772.5 463.2,771.9 C463.4,771.3 463.9,770.7 464,770.2 C464.2,769.7 464.3,769.2 464.1,768.8 C464,768.4 463.6,768.1 463.1,767.8 C462.7,767.5 462,767.3 461.4,767.1 C460.8,766.8 460.1,766.6 459.6,766.3 C459.2,766 458.8,765.7 458.7,765.3 C458.5,764.9 458.6,764.4 458.8,763.9 C459,763.3 459.5,762.8 459.8,762.2 C460.1,761.7 460.6,761.1 460.8,760.6 C461,760.1 461.1,759.7 461,759.3 C460.9,758.9 460.6,758.5 460.1,758.2 C459.7,757.9 459,757.7 458.5,757.4 C457.9,757.1 457.2,756.8 456.8,756.5 C456.4,756.2 456,755.8 455.9,755.4 C455.8,755 456,754.6 456.2,754.1 C456.4,753.6 456.9,753.1 457.3,752.6 C457.7,752.1 458.2,751.6 458.5,751.1 C458.7,750.7 458.9,750.2 458.8,749.8 C458.7,749.5 458.4,749.1 458,748.8 C457.6,748.4 457,748.2 456.4,747.8 C455.9,747.5 455.2,747.2 454.8,746.9 C454.5,746.5 454.1,746.2 454.1,745.8 C454,745.4 454.2,745 454.5,744.5 C454.8,744.1 455.3,743.6 455.8,743.2 C456.2,742.7 456.7,742.3 457,741.9 C457.3,741.5 457.5,741.1 457.5,740.7 C457.5,740.3 457.2,740 456.8,739.6 C456.5,739.3 455.8,738.9 455.3,738.6 C454.8,738.2 454.2,737.9 453.9,737.5 C453.5,737.2 453.2,736.8 453.2,736.4 C453.2,736 453.4,735.6 453.8,735.3 C454.1,734.9 454.7,734.5 455.1,734.1 C455.6,733.7 456.2,733.4 456.5,733 C456.9,732.6 457.1,732.3 457.1,731.9 C457.1,731.6 456.9,731.2 456.6,730.9 C456.2,730.5 455.6,730.1 455.2,729.8 C454.7,729.4 454.1,729 453.8,728.6 C453.5,728.2 453.3,727.9 453.3,727.5 C453.3,727.1 453.6,726.8 454,726.5 C454.3,726.1 455,725.8 455.5,725.6 C456,725.3 456.6,725 457,724.7 C457.4,724.4 457.6,724.1 457.7,723.8 C457.7,723.4 457.5,723.1 457.2,722.7 C457,722.3 456.4,721.9 456,721.5 C455.6,721.1 455,720.7 454.8,720.3 C454.5,719.9 454.3,719.5 454.4,719.2 C454.5,718.8 454.8,718.5 455.2,718.3 C455.6,718 456.2,717.8 456.8,717.6 C457.3,717.4 458,717.3 458.4,717 C458.8,716.8 459.1,716.6 459.2,716.3 C459.2,716 459.1,715.6 458.8,715.2 C458.6,714.8 458.1,714.4 457.7,713.9 C457.4,713.5 456.9,713 456.7,712.6 C456.5,712.2 456.3,711.8 456.4,711.5 C456.5,711.2 456.9,711 457.3,710.8 C457.7,710.6 458.4,710.6 459,710.5 C459.5,710.4 460.2,710.3 460.6,710.2 C461,710 461.4,709.9 461.5,709.6 C461.6,709.4 461.5,709 461.3,708.6 C461.1,708.2 460.7,707.7 460.4,707.2 C460.1,706.7 459.7,706.2 459.5,705.8 C459.4,705.4 459.3,705 459.5,704.7 C459.6,704.4 460,704.3 460.4,704.2 C460.8,704.1 461.5,704.2 462.1,704.2 C462.6,704.2 463.3,704.3 463.7,704.2 C464.1,704.2 464.5,704.1 464.6,703.9 C464.8,703.6 464.7,703.3 464.6,702.9 C464.5,702.5 464.1,701.9 463.9,701.4 C463.7,700.9 463.4,700.3 463.3,699.9 C463.2,699.4 463.2,699 463.4,698.8 C463.6,698.6 464,698.5 464.4,698.5 C464.8,698.6 465.5,698.7 466,698.9 C466.5,699 467.2,699.2 467.6,699.2 C468,699.3 468.3,699.3 468.5,699.1 C468.7,698.9 468.7,698.6 468.7,698.2 C468.6,697.7 468.4,697.1 468.3,696.6 C468.1,696.1 468,695.4 467.9,695 C467.9,694.6 468,694.2 468.2,694 C468.4,693.8 468.8,693.9 469.2,694 C469.6,694.1 470.2,694.4 470.7,694.6 C471.2,694.8 471.8,695.2 472.2,695.3 C472.6,695.4 472.9,695.5 473.1,695.4 C473.3,695.3 473.4,694.9 473.4,694.5 C473.5,694.1 473.4,693.4 473.4,692.9 C473.3,692.4 473.3,691.7 473.4,691.3 C473.4,690.8 473.6,690.5 473.8,690.4 C474.1,690.2 474.4,690.3 474.8,690.5 C475.2,690.7 475.7,691.1 476.1,691.5 C476.6,691.8 477,692.3 477.4,692.5 C477.8,692.7 478.1,692.8 478.3,692.7 C478.6,692.6 478.7,692.3 478.8,691.9 C478.9,691.5 479,690.9 479.1,690.3 C479.2,689.8 479.3,689.1 479.5,688.8 C479.6,688.4 479.8,688 480.1,688 C480.4,687.9 480.7,688.1 481.1,688.3 C481.4,688.6 481.8,689.1 482.2,689.5 C482.6,689.9 482.9,690.5 483.3,690.7 C483.6,691 483.9,691.2 484.1,691.2 C484.4,691.1 484.6,690.9 484.8,690.5 C485,690.1 485.2,689.5 485.4,689 C485.6,688.5 485.9,687.8 486.1,687.5 C486.4,687.1 486.7,686.9 486.9,686.8 C487.2,686.8 487.6,687.1 487.9,687.4 C488.2,687.7 488.5,688.3 488.8,688.8 C489.1,689.2 489.3,689.8 489.6,690.2 C489.9,690.5 490.2,690.8 490.4,690.8 C490.7,690.8 491,690.5 491.3,690.2 C491.6,689.9 491.9,689.3 492.2,688.8 C492.5,688.4 492.9,687.8 493.2,687.5 C493.6,687.2 493.9,687 494.2,687 C494.5,687 494.8,687.3 495,687.7 C495.3,688.1 495.5,688.7 495.8,689.2 C496,689.7 496.2,690.4 496.4,690.8 C496.7,691.1 496.9,691.4 497.2,691.5 C497.5,691.5 497.8,691.4 498.2,691.1 C498.5,690.8 499,690.3 499.4,689.9 C499.8,689.5 500.2,689 500.6,688.8 C501,688.5 501.4,688.3 501.7,688.4 C502.1,688.5 502.3,688.8 502.5,689.3 C502.8,689.7 502.9,690.3 503.1,690.9 C503.2,691.4 503.4,692.1 503.6,692.5 C503.8,692.9 504,693.3 504.3,693.4 C504.6,693.5 505,693.4 505.4,693.2 C505.8,693 506.3,692.5 506.8,692.2 C507.3,691.9 507.8,691.4 508.3,691.2 C508.7,691 509.1,690.9 509.5,691.1 C509.8,691.2 510,691.6 510.2,692 C510.4,692.5 510.4,693.2 510.6,693.7 C510.7,694.3 510.7,695 510.9,695.5 C511.1,695.9 511.3,696.3 511.6,696.4 C511.9,696.6 512.3,696.5 512.8,696.4 C513.2,696.2 513.8,695.9 514.4,695.6 C514.9,695.4 515.5,695 516,694.9 C516.5,694.8 516.9,694.7 517.2,694.9 C517.6,695.1 517.8,695.5 517.9,696 C518.1,696.4 518.1,697.1 518.1,697.7 C518.2,698.3 518.2,699 518.4,699.5 C518.5,700 518.7,700.4 519,700.6 C519.3,700.8 519.7,700.8 520.2,700.7 C520.7,700.6 521.4,700.3 521.9,700.1 C522.5,700 523.2,699.7 523.7,699.6 C524.2,699.6 524.7,699.6 525,699.8 C525.3,700 525.5,700.5 525.6,701 C525.7,701.5 525.7,702.2 525.7,702.8 C525.7,703.4 525.7,704.1 525.8,704.6 C525.9,705.1 526,705.6 526.3,705.8 C526.6,706 527.1,706.1 527.6,706.1 C528.1,706.1 528.8,705.8 529.4,705.7 C530,705.6 530.7,705.4 531.2,705.4 C531.8,705.4 532.2,705.5 532.5,705.7 C532.9,706 533,706.5 533.1,707 C533.2,707.5 533.1,708.2 533.1,708.9 C533.1,709.5 532.9,710.2 533,710.7 C533.1,711.2 533.2,711.7 533.5,712 C533.8,712.3 534.3,712.4 534.8,712.4 C535.3,712.4 536,712.3 536.7,712.2 C537.3,712.2 538,712.1 538.5,712.1 C539.1,712.2 539.6,712.3 539.9,712.6 C540.1,712.9 540.3,713.4 540.3,713.9 C540.4,714.5 540.2,715.2 540.2,715.8 C540.1,716.5 539.9,717.2 540,717.7 C540,718.2 540.1,718.7 540.4,719 C540.7,719.3 541.1,719.5 541.7,719.6 C542.2,719.7 542.9,719.6 543.6,719.6 C544.2,719.6 545,719.6 545.5,719.7 C546,719.8 546.5,720 546.8,720.3 C547.1,720.6 547.1,721.1 547.2,721.7 C547.2,722.2 547,722.9 546.9,723.6 C546.8,724.2 546.6,724.9 546.6,725.5 C546.6,726 546.6,726.5 546.9,726.8 C547.2,727.2 547.6,727.4 548.1,727.5 C548.7,727.7 549.4,727.6 550.1,727.7 C550.7,727.8 551.4,727.8 552,727.9 C552.5,728.1 553,728.3 553.2,728.7 C553.5,729 553.5,729.6 553.5,730.1 C553.5,730.7 553.2,731.4 553.1,732 C552.9,732.6 552.7,733.3 552.7,733.9 C552.6,734.4 552.6,734.9 552.9,735.3 C553.1,735.6 553.6,735.9 554.1,736.1 C554.6,736.3 555.3,736.3 556,736.4 C556.6,736.5 557.4,736.6 557.9,736.8 C558.4,737 558.9,737.3 559.1,737.6 C559.3,738 559.3,738.5 559.3,739.1 C559.2,739.6 558.9,740.3 558.7,740.9 C558.5,741.6 558.2,742.2 558.1,742.8 C558.1,743.3 558.1,743.8 558.3,744.2 C558.5,744.6 558.9,744.9 559.4,745.1 C559.9,745.3 560.7,745.4 561.3,745.6 C561.9,745.8 562.6,745.9 563.1,746.1 C563.6,746.3 564.1,746.6 564.3,747 C564.5,747.4 564.5,747.9 564.3,748.5 C564.2,749 563.9,749.7 563.7,750.3 C563.4,750.9 563.1,751.6 562.9,752.1 C562.8,752.6 562.8,753.1 563,753.5 C563.1,753.9 563.5,754.2 564,754.5 C564.5,754.7 565.2,754.9 565.8,755.1 C566.5,755.3 567.2,755.4 567.7,755.7 C568.1,756 568.5,756.3 568.7,756.7 C568.9,757.1 568.8,757.6 568.7,758.2 C568.5,758.7 568.1,759.3 567.8,759.9 C567.6,760.5 567.1,761.1 567,761.6 C566.8,762.1 566.7,762.6 566.9,763 C567,763.4 567.4,763.7 567.9,764 C568.3,764.3 569,764.5 569.6,764.7 C570.2,765 570.9,765.2 571.4,765.5 C571.8,765.8 572.2,766.1 572.3,766.5 C572.5,766.9 572.4,767.4 572.2,767.9 C572,768.5 571.5,769 571.2,769.6 C570.9,770.1 570.4,770.7 570.2,771.2 C570,771.7 569.9,772.1 570,772.5 C570.1,772.9 570.4,773.3 570.9,773.6 C571.3,773.9 572,774.1 572.5,774.4 C573.1,774.7 573.8,775 574.2,775.3 C574.6,775.6 575,776 575.1,776.4 C575.2,776.8 575,777.2 574.8,777.7 C574.6,778.2 574.1,778.7 573.7,779.2 C573.3,779.7 572.8,780.2 572.5,780.7 C572.3,781.1 572.1,781.6 572.2,782 C572.3,782.3 572.6,782.7 573,783 C573.4,783.4 574,783.6 574.6,784 C575.1,784.3 575.8,784.6 576.2,784.9 C576.5,785.3 576.9,785.6 576.9,786 C577,786.4 576.8,786.8 576.5,787.3 C576.2,787.7 575.7,788.2 575.2,788.6 C574.8,789.1 574.3,789.5 574,789.9 C573.7,790.3 573.5,790.7 573.5,791.1 C573.5,791.5 573.8,791.8 574.2,792.2 C574.5,792.5 575.2,792.9 575.7,793.2 C576.2,793.6 576.8,793.9 577.1,794.3 C577.5,794.6 577.8,795 577.8,795.4 C577.8,795.8 577.6,796.2 577.2,796.5 C576.9,796.9 576.3,797.3 575.9,797.7 C575.4,798.1 574.8,798.4 574.5,798.8 C574.1,799.2 573.9,799.5 573.9,799.9 C573.9,800.2 574.1,800.6 574.4,800.9 C574.8,801.3 575.4,801.7 575.8,802 C576.3,802.4 576.9,802.8 577.2,803.2 C577.5,803.6 577.7,803.9 577.7,804.3 C577.7,804.7 577.4,805 577,805.3 C576.7,805.7 576,806 575.5,806.2 C575,806.5 574.4,806.8 574,807.1 C573.6,807.4 573.4,807.7 573.3,808 C573.3,808.4 573.5,808.7 573.8,809.1 C574,809.5 574.6,809.9 575,810.3 C575.4,810.7 576,811.1 576.2,811.5 C576.5,811.9 576.7,812.3 576.6,812.6 C576.5,813 576.2,813.3 575.8,813.5 C575.4,813.8 574.8,814 574.2,814.2 C573.7,814.4 573,814.5 572.6,814.8 C572.2,815 571.9,815.2 571.8,815.5 C571.8,815.8 571.9,816.2 572.2,816.6 C572.4,817 572.9,817.4 573.3,817.9 C573.6,818.3 574.1,818.8 574.3,819.2 C574.5,819.6 574.7,820 574.6,820.3 C574.5,820.6 574.1,820.8 573.7,821 C573.3,821.2 572.6,821.2 572,821.3 C571.5,821.4 570.8,821.5 570.4,821.6 C570,821.8 569.6,821.9 569.5,822.2 C569.4,822.4 569.5,822.8 569.7,823.2 C569.9,823.6 570.3,824.1 570.6,824.6 C570.9,825.1 571.3,825.6 571.5,826 C571.6,826.4 571.7,826.8 571.5,827.1 C571.4,827.4 571,827.5 570.6,827.6 C570.2,827.7 569.5,827.6 568.9,827.6 C568.4,827.6 567.7,827.5 567.3,827.6 C566.9,827.6 566.5,827.7 566.4,827.9 C566.2,828.2 566.3,828.5 566.4,828.9 C566.5,829.3 566.9,829.9 567.1,830.4 C567.3,830.9 567.6,831.5 567.7,831.9 C567.8,832.4 567.8,832.8 567.6,833 C567.4,833.2 567,833.3 566.6,833.3 C566.2,833.2 565.5,833.1 565,832.9 C564.5,832.8 563.8,832.6 563.4,832.6 C563,832.5 562.7,832.5 562.5,832.7 C562.3,832.9 562.3,833.2 562.3,833.6 C562.4,834.1 562.6,834.7 562.7,835.2 C562.9,835.7 563,836.4 563.1,836.8 C563.1,837.2 563,837.6 562.8,837.8 C562.6,838 562.2,837.9 561.8,837.8 C561.4,837.7 560.8,837.4 560.3,837.2 C559.8,837 559.2,836.6 558.8,836.5 C558.4,836.4 558.1,836.3 557.9,836.4 C557.7,836.5 557.6,836.9 557.6,837.3 C557.5,837.7 557.6,838.4 557.6,838.9 Z" class="w" stroke-width="1.2"/>
<path d="M484.1,746.3 L498.9,737.8 L500.6,737 L502.5,736.5 L504.6,736.4 L506.7,736.5 L509,737 L511.3,737.8 L513.6,738.9 L516,740.2 L518.4,741.9 L520.7,743.8 L522.9,746 L525.1,748.4 L527.2,751 L529.1,753.7 L530.8,756.6 L532.4,759.5 L533.8,762.5 L535,765.6 L536,768.7 L536.8,771.7 L537.3,774.7 L537.6,777.6 L537.6,780.3 L537.3,782.9 L536.9,785.3 L536.2,787.5 L535.2,789.4 L534,791.1 L532.7,792.5 L531.1,793.6 L516.3,802.1" class="w"/>
<ellipse cx="500.2" cy="774.2" rx="32.2" ry="18.3" transform="rotate(60 500.2 774.2)" class="w"/>
<ellipse cx="500.4" cy="775" rx="21" ry="13.6" transform="rotate(60 500.4 775)" stroke-width="1.6"/>
<ellipse cx="500.9" cy="774.8" rx="18.8" ry="11.6" transform="rotate(60 500.9 774.8)"/>
<polyline points="509.4,790.5 507.8,790.4 506.2,790.1 504.4,789.4 502.7,788.6 501,787.5 499.3,786.1 497.7,784.6 496.2,782.9 494.8,781 493.6,779 492.5,776.9 491.5,774.8 490.8,772.6 490.3,770.4 489.9,768.3 489.8,766.3 490,764.4 490.3,762.6 490.8,760.9 491.6,759.5"/>
<ellipse cx="415.3" cy="823.6" rx="71.8" ry="41.2" transform="rotate(60 415.3 823.6)" class="w"/>
<ellipse cx="410.7" cy="826.3" rx="71.8" ry="41.2" transform="rotate(60 410.7 826.3)" class="w"/>
<ellipse cx="410.1" cy="828" rx="47.8" ry="28.1" transform="rotate(60 410.1 828)"/>
<ellipse cx="410.4" cy="828" rx="45.2" ry="25.8" transform="rotate(60 410.4 828)"/>
<polyline points="442.8,861.1 440.3,861.6 437.6,861.7 434.9,861.5 432,860.9 429,859.9 426,858.6 423,856.9 420,854.9 417,852.5 414,849.9 411.2,847.1 408.4,843.9 405.8,840.6 403.4,837.1 401.2,833.4 399.1,829.6 397.3,825.7 395.7,821.8 394.3,817.9 393.3,814 392.5,810.1 392,806.4 391.7,802.8 391.8,799.3 392.1,796 392.8,793 393.7,790.2 394.9,787.7 396.3,785.4 398,783.5"/>
<ellipse cx="410.6" cy="779.5" rx="5.2" ry="3.3" transform="rotate(60 410.6 779.5)"/>
<polyline points="413.4,783.1 412.5,783 411.7,782.6 410.8,782 410.1,781.2 409.4,780.2 408.9,779.1 408.6,778.1 408.5,777 408.6,776.1 408.9,775.3"/>
<ellipse cx="375" cy="829.6" rx="5.2" ry="3.3" transform="rotate(60 375 829.6)"/>
<polyline points="377.8,833.2 376.9,833.1 376.1,832.7 375.2,832.1 374.5,831.3 373.8,830.3 373.3,829.2 373,828.2 372.9,827.1 373,826.2 373.3,825.4"/>
<ellipse cx="445.7" cy="870.6" rx="5.2" ry="3.3" transform="rotate(60 445.7 870.6)"/>
<polyline points="448.5,874.2 447.6,874.1 446.8,873.7 445.9,873.1 445.2,872.3 444.5,871.3 444,870.2 443.7,869.2 443.6,868.1 443.7,867.2 444,866.4"/>
<g transform="translate(285 825) scale(0.09846)">
<path d="M165,165 L255,148 L300,118 Q380,85 450,105 Q600,200 740,420 Q800,580 770,700 Q740,780 700,800 L640,835 L600,900 L470,925 L355,885 L300,830 L165,640 L135,600 L105,520 L95,480 L75,290 L110,215 Z" class="w"/>
<path d="M300,120 Q370,95 440,125 Q590,225 722,440 Q770,590 742,710 Q720,770 680,800" stroke-width="1.3"/>
<path d="M320,150 Q375,135 430,160 Q560,250 682,450 Q728,600 702,720 Q685,775 650,810"/>
<path d="M340,180 Q385,172 430,200 Q540,280 652,470 Q692,620 667,740 Q650,795 612,830" stroke-width="1.5"/>
<path d="M165,165 L255,148 L330,160 Q440,200 560,370 Q650,520 655,680 Q650,780 610,850 L640,830 L655,860 L625,880 L600,862 L590,860 L600,900 L470,925 L445,880 L405,890 L400,845 L350,830 L355,880 L300,830 L340,810 L200,625 L165,640 L180,590 L135,600 L105,520 L150,510 L150,470 L95,480 L75,290 L140,280 L165,240 L125,262 L110,215 L150,195 Z" class="w" stroke-width="1.3"/>
<path d="M200,290 Q250,245 330,255 Q420,290 520,420 Q600,550 605,660 Q600,750 540,790 Q480,820 420,800 Q320,740 230,600 Q170,480 170,380 Q175,320 200,290 Z" stroke-width="1.5"/>
<path d="M430,310 Q540,420 590,560 Q620,680 580,765"/>
<path d="M185,335 L275,312 Q300,320 300,350 L298,388 L205,430 Q180,400 185,335 Z M215,560 L325,508 Q360,520 378,590 L272,650 Q225,610 215,560 Z M330,730 L455,682 Q510,690 530,742 L445,808 Q380,790 330,730 Z" stroke-width="1.5"/>
<path d="M205,430 L215,560 M298,388 L325,508 M272,650 L330,730 M378,590 L455,682" stroke-width="1.3"/>
<path d="M440,330 L460,360 M480,380 L500,410 M560,520 L575,560 M590,610 L598,650" stroke-width="2"/>
</g>
</g>
<g id="partF">
<g transform="translate(55 875) scale(0.20790)">
<path d="M110,215 Q190,120 320,72 Q400,45 520,75 Q650,140 760,270 Q835,400 860,520 Q865,640 815,755 Q750,840 660,882 L560,932 Q300,900 150,650 Q40,420 110,215 Z" class="w"/>
<ellipse cx="378" cy="541" rx="427" ry="264" transform="rotate(60 378 541)" class="w"/>
<ellipse cx="380" cy="541" rx="412" ry="250" transform="rotate(60 380 541)"/>
<ellipse cx="383" cy="540" rx="392" ry="234" transform="rotate(60 383 540)"/>
<ellipse cx="386" cy="539" rx="372" ry="218" transform="rotate(60 386 539)"/>
<path d="M85,380 L88,420" stroke-width="2"/>
<path d="M262,97 Q350,88 440,100 Q465,110 460,130 Q450,150 430,146 Q370,125 300,125"/>
<path d="M188,152 Q255,110 335,95"/>
<path d="M470,65 Q600,150 700,290 Q790,440 800,600 Q800,720 740,830"/>
<path d="M668,402 L698,378 Q706,374 712,382 L742,428 Q746,438 738,446 L716,464 Q706,470 700,460 Z"/>
<path d="M676,408 L704,456"/>
<path d="M300,232 Q282,330 330,480 Q410,640 530,742 Q570,765 605,762"/>
<ellipse cx="365" cy="270" rx="42" ry="27" transform="rotate(60 365 270)"/>
<ellipse cx="372" cy="268" rx="32" ry="20" transform="rotate(60 372 268)"/>
<path d="M340,392 Q345,365 372,368 Q392,378 390,400"/>
<ellipse cx="590" cy="687" rx="48" ry="32" transform="rotate(60 590 687)"/>
<ellipse cx="598" cy="685" rx="36" ry="22" transform="rotate(60 598 685)"/>
<path d="M472,628 Q485,645 505,640 Q520,625 515,605"/>
<path d="M310,432 L375,405 L440,440 L470,522 L500,510 L512,580 L455,628 L430,642 L370,620 L322,545 Z" class="w"/>
<path d="M300,432 Q380,400 432,322"/>
<path d="M455,628 L520,597 L600,602"/>
<path d="M470,522 L458,628"/>
<ellipse cx="392" cy="530" rx="72" ry="48" transform="rotate(60 392 530)"/>
<ellipse cx="400" cy="528" rx="58" ry="36" transform="rotate(60 400 528)"/>
<path d="M372,500 Q378,560 425,588"/>
</g>
<g transform="translate(5 960) scale(0.07657)">
<path d="M380,288 L520,182 Q560,165 595,200 Q630,250 612,302 L452,398 Z" class="w"/>
<path d="M420,255 Q472,295 472,373"/>
<path d="M462,226 Q514,266 514,341"/>
<path d="M504,197 Q556,237 556,309"/>
<path d="M546,168 Q598,208 598,277"/>
<path d="M520,182 Q560,200 580,250 Q590,290 580,320"/>
<path d="M125,330 L240,262 Q290,245 350,280 Q400,330 432,420 L425,480 L300,570 Q250,585 200,545 Q140,470 125,400 Z" class="w"/>
<path d="M125,330 Q180,300 240,330 Q300,400 322,490 Q325,540 300,570"/>
<path d="M175,395 L215,360 L270,392 L295,470 L262,510 L205,480 Z"/>
<path d="M240,330 L350,280 M322,490 L432,420 M268,350 L370,300 M335,455 L425,398"/>
</g>
<g transform="translate(727 801)">
<ellipse cx="0" cy="1.3" rx="10.2" ry="5.4" class="w"/>
<ellipse cx="0" cy="-0.4" rx="9.8" ry="5" class="w"/>
<path class="w" d="M-7.4,-2 L-7.8,-9.4 L-4.4,-13.4 L3.6,-13.8 L7.8,-10 L7.6,-2.4 L3.6,1.6 L-3.6,1.6 Z"/>
<path d="M-7.8,-9.4 L-3.8,-5.4 L3.6,-5.6 L7.8,-10 M-3.8,-5.4 L-3.6,1.6 M3.6,-5.6 L3.6,1.6"/>
<ellipse cx="-0.2" cy="-9.6" rx="4.4" ry="2.5"/>
</g>
<g transform="translate(660 880) scale(0.19048)">
<path d="M172,365 L172,500 Q175,540 240,556 Q300,568 365,553 Q425,535 428,500 L428,290 L380,260 L200,330 Z" class="w"/>
<path d="M185,368 Q240,395 305,395 Q385,380 428,318"/>
<path d="M200,340 Q250,352 292,348 L300,368 Q250,388 205,378 Z" class="w"/>
<path d="M380,262 L410,240 L432,268 L428,300 L392,302 Z" class="w"/>
<path d="M392,302 L385,280 L410,262"/>
<path d="M300,292 L335,275 L352,300 L352,330 L318,345 L300,322 Z" class="w"/>
<path d="M300,292 L318,315 L352,300 M318,315 L318,345"/>
<path d="M80,175 L200,105 L320,175 L320,220 L300,232 L300,262 L195,322 L80,262 Z" class="w"/>
<path d="M80,175 L195,245 L320,175 M195,245 L195,322"/>
<path d="M150,197 L240,145 L290,172 L197,226 Z"/>
<path d="M115,288 L115,312 L130,322 L130,340 L188,366 L200,352 M130,322 L195,352 M150,335 L150,320 L195,340"/>
<path d="M160,330 L200,348 L200,338" stroke-width="1.8"/>
<path d="M225,335 L225,265 Q245,251 265,265 L265,335 Q245,347 225,335 Z" class="w"/>
<path d="M222,273 Q245,287 268,273"/>
<path d="M222,293 Q245,307 268,293"/>
<path d="M222,314 Q245,328 268,314"/>
<path d="M222,335 Q245,349 268,335"/>
<ellipse cx="245" cy="265" rx="20" ry="8"/>
<path d="M331,285 L331,205 Q352,191 373,205 L373,285 Q352,297 331,285 Z" class="w"/>
<path d="M328,213 Q352,227 376,213"/>
<path d="M328,237 Q352,251 376,237"/>
<path d="M328,261 Q352,275 376,261"/>
<path d="M328,285 Q352,299 376,285"/>
<ellipse cx="352" cy="205" rx="21" ry="8"/>
<path d="M160,812 L165,745 Q180,705 240,690 L270,685 L282,702 L318,722 L342,700 L378,735 L385,700 L410,685 L510,740 L510,882 L432,938 L430,960 Q420,985 350,1012 L292,1052 L265,1045 L160,985 Z" class="w"/>
<path d="M160,812 L265,875 L265,1045 M265,875 L345,835 L430,790 L510,740"/>
<path d="M345,838 L345,992 M422,800 L422,955"/>
<path d="M165,745 L168,812 M175,800 Q200,792 225,812 L240,830 Q300,838 345,822 Q395,800 420,762 L432,738 L418,722 L410,685"/>
<path d="M240,690 Q190,715 172,760"/>
<path d="M420,762 L430,790"/>
<path d="M272,905 L272,1010 M495,790 L495,890" stroke-width="2.2"/>
<path d="M280,1040 Q330,1005 400,985"/>
</g>
</g>
<g id="leaders">
<line x1="55" y1="128" x2="55" y2="158"/>
<line x1="179" y1="118" x2="179" y2="150"/>
<line x1="163" y1="244" x2="163" y2="274"/>
<line x1="213" y1="324" x2="246" y2="324"/>
<line x1="296" y1="76" x2="328" y2="76"/>
<line x1="301" y1="114" x2="334" y2="114"/>
<line x1="328" y1="236" x2="360" y2="236"/>
<line x1="301" y1="172" x2="313" y2="227"/>
<line x1="403" y1="281" x2="403" y2="298"/>
<line x1="344" y1="339" x2="377" y2="339"/>
<line x1="418" y1="390" x2="418" y2="406"/>
<line x1="501" y1="246" x2="501" y2="278"/>
<line x1="534" y1="225" x2="534" y2="257"/>
<line x1="562" y1="268" x2="562" y2="302"/>
<line x1="574" y1="202" x2="574" y2="233"/>
<line x1="605" y1="245" x2="605" y2="277"/>
<line x1="686" y1="50" x2="686" y2="82"/>
<line x1="820" y1="117" x2="820" y2="146"/>
<line x1="809" y1="114" x2="698" y2="178"/>
<line x1="668" y1="390" x2="668" y2="421"/>
<line x1="832" y1="413" x2="832" y2="445"/>
<line x1="674" y1="454" x2="600" y2="496"/>
<line x1="249" y1="490" x2="249" y2="520"/>
<line x1="478" y1="588" x2="478" y2="621"/>
<line x1="488" y1="560" x2="554" y2="523"/>
<line x1="419" y1="636" x2="419" y2="666"/>
<line x1="348" y1="655" x2="348" y2="688"/>
<line x1="625" y1="550" x2="625" y2="581"/>
<line x1="637" y1="695" x2="699" y2="660"/>
<line x1="623" y1="735" x2="623" y2="763"/>
<line x1="373" y1="737" x2="373" y2="767"/>
<line x1="305" y1="808" x2="305" y2="838"/>
<line x1="552" y1="843" x2="552" y2="878"/>
<line x1="139" y1="842" x2="139" y2="885"/>
<line x1="244" y1="863" x2="244" y2="896"/>
<line x1="26" y1="947" x2="26" y2="980"/>
<line x1="56" y1="973" x2="128" y2="932"/>
<line x1="737" y1="800" x2="770" y2="800"/>
<line x1="726" y1="813" x2="726" y2="917"/>
<line x1="621" y1="971" x2="654" y2="971"/>
<line x1="757" y1="1037" x2="789" y2="1037"/>
<polyline points="669,99 646,113 702,146 677,161"/>
</g>
</g>
<g id="labels" class="t">
<text transform="translate(658.4 45) scale(1 1)" textLength="54.4" lengthAdjust="spacing" font-size="15.3">92150</text>
<text transform="translate(792.4 163.5) scale(1 1)" textLength="54.4" lengthAdjust="spacing" font-size="15.3">92002</text>
<text transform="translate(327.4 82) scale(1 1)" textLength="54.4" lengthAdjust="spacing" font-size="15.3">21017</text>
<text transform="translate(333.4 119.5) scale(1 1)" textLength="65.2" lengthAdjust="spacing" font-size="15.3">92015A</text>
<text transform="translate(152.4 112.5) scale(1 1)" textLength="54.4" lengthAdjust="spacing" font-size="15.3">26011</text>
<text transform="translate(28.4 122.5) scale(1 1)" textLength="54.4" lengthAdjust="spacing" font-size="15.3">92071</text>
<text transform="translate(359.4 242.5) scale(1 1)" textLength="65.2" lengthAdjust="spacing" font-size="15.3">92015A</text>
<text transform="translate(136.4 238.5) scale(1 1)" textLength="54.4" lengthAdjust="spacing" font-size="15.3">21163</text>
<text transform="translate(375.4 275.5) scale(1 1)" textLength="54.4" lengthAdjust="spacing" font-size="15.3">21040</text>
<text transform="translate(160.4 330.5) scale(1 1)" textLength="54.4" lengthAdjust="spacing" font-size="15.3">21039</text>
<text transform="translate(377.4 345.5) scale(1 1)" textLength="65.2" lengthAdjust="spacing" font-size="15.3">92055B</text>
<text transform="translate(391.4 384.5) scale(1 1)" textLength="54.4" lengthAdjust="spacing" font-size="15.3">21040</text>
<text transform="translate(216.4 537.5) scale(1 1)" textLength="65.2" lengthAdjust="spacing" font-size="15.3">92055C</text>
<text transform="translate(547.4 196.5) scale(1 1)" textLength="54.4" lengthAdjust="spacing" font-size="15.3">21025</text>
<text transform="translate(506.4 219.5) scale(1 1)" textLength="54.4" lengthAdjust="spacing" font-size="15.3">21025</text>
<text transform="translate(468.4 241.5) scale(1 1)" textLength="54.4" lengthAdjust="spacing" font-size="15.3">92022</text>
<text transform="translate(577.4 293.5) scale(1 1)" textLength="54.4" lengthAdjust="spacing" font-size="15.3">21025</text>
<text transform="translate(534.4 317.5) scale(1 1)" textLength="54.4" lengthAdjust="spacing" font-size="15.3">21025</text>
<text transform="translate(631.4 385.5) scale(1 1)" textLength="65.2" lengthAdjust="spacing" font-size="15.3">92055A</text>
<text transform="translate(795.4 462.5) scale(1 1)" textLength="54.4" lengthAdjust="spacing" font-size="15.3">92055</text>
<text transform="translate(601.4 595.5) scale(1 1)" textLength="54.4" lengthAdjust="spacing" font-size="15.3">92057</text>
<text transform="translate(451.4 638.5) scale(1 1)" textLength="54.4" lengthAdjust="spacing" font-size="15.3">92200</text>
<text transform="translate(392.4 683.5) scale(1 1)" textLength="54.4" lengthAdjust="spacing" font-size="15.3">39076</text>
<text transform="translate(316.4 705.5) scale(1 1)" textLength="65.2" lengthAdjust="spacing" font-size="15.3">92022A</text>
<text transform="translate(345.4 731.5) scale(1 1)" textLength="54.4" lengthAdjust="spacing" font-size="15.3">42034</text>
<text transform="translate(591.4 781.5) scale(1 1)" textLength="65.2" lengthAdjust="spacing" font-size="15.3">92022B</text>
<text transform="translate(770.4 806.5) scale(1 1)" textLength="54.4" lengthAdjust="spacing" font-size="15.3">92015</text>
<text transform="translate(277.4 802.5) scale(1 1)" textLength="54.4" lengthAdjust="spacing" font-size="15.3">13194</text>
<text transform="translate(211.4 858.5) scale(1 1)" textLength="65.2" lengthAdjust="spacing" font-size="15.3">92022B</text>
<text transform="translate(526.4 894.5) scale(1 1)" textLength="54.4" lengthAdjust="spacing" font-size="15.3">12046</text>
<text transform="translate(11.4 942.5) scale(1 1)" textLength="32.8" lengthAdjust="spacing" font-size="15.3">120</text>
<text transform="translate(567.4 977.5) scale(1 1)" textLength="54.4" lengthAdjust="spacing" font-size="15.3">27010</text>
<text transform="translate(790.4 1042.5) scale(1 1)" textLength="54.4" lengthAdjust="spacing" font-size="15.3">21064</text>
<text transform="translate(67.4 838.1) scale(1 1.2)" textLength="141.5" lengthAdjust="spacing" font-size="15.5" class="m">Ref.Generator</text>
<text transform="translate(816.4 10.2) scale(1 1)" textLength="42" lengthAdjust="spacing" font-size="10.2">E1840</text>
</g>
</svg>
</body></html>
